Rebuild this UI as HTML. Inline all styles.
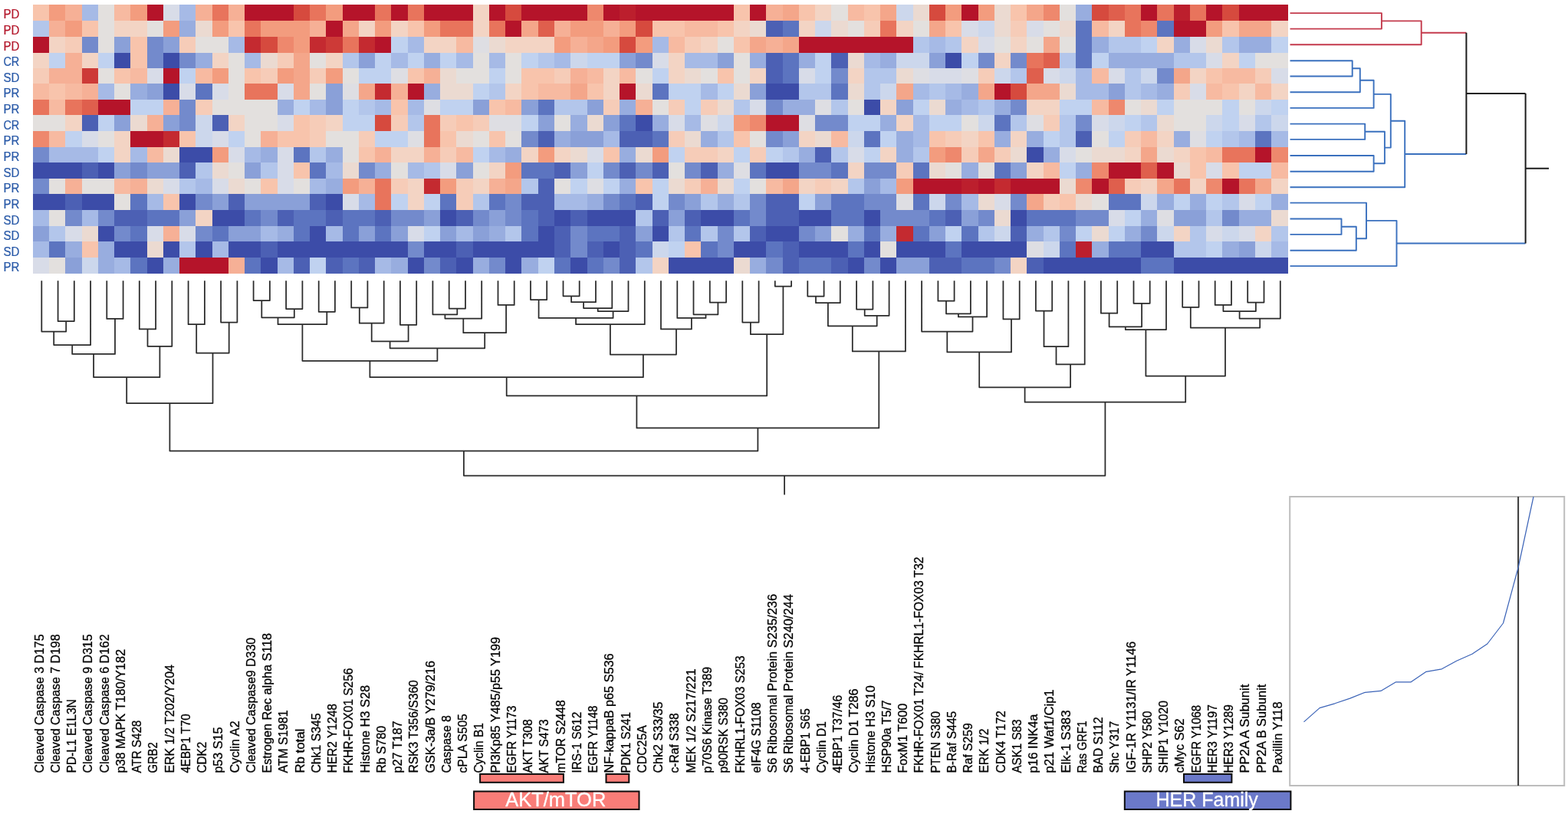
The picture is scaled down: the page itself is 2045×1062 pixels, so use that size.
<!DOCTYPE html>
<html lang="en">
<head>
<meta charset="utf-8">
<title>Hierarchical clustering heatmap</title>
<style>
html,body{margin:0;padding:0;background:#fff;}
body{width:2045px;height:1062px;overflow:hidden;}
svg{display:block;}
</style>
</head>
<body>
<svg width="2045" height="1062" viewBox="0 0 2045 1062">
<rect width="2045" height="1062" fill="#fff"/>
<g shape-rendering="crispEdges">
<rect x="42.80" y="5.90" width="21.56" height="21.10" fill="#f8c4ac"/>
<rect x="64.06" y="5.90" width="21.56" height="21.10" fill="#f39c7e"/>
<rect x="85.31" y="5.90" width="21.56" height="21.10" fill="#f6b096"/>
<rect x="106.57" y="5.90" width="21.56" height="21.10" fill="#a6bae6"/>
<rect x="127.82" y="5.90" width="21.56" height="21.10" fill="#e3e0de"/>
<rect x="149.08" y="5.90" width="21.56" height="21.10" fill="#f7baa1"/>
<rect x="170.34" y="5.90" width="21.56" height="21.10" fill="#f39c7e"/>
<rect x="191.59" y="5.90" width="21.56" height="21.10" fill="#b5142a"/>
<rect x="212.85" y="5.90" width="21.56" height="21.10" fill="#d8dce8"/>
<rect x="234.10" y="5.90" width="21.56" height="21.10" fill="#a6bae6"/>
<rect x="255.36" y="5.90" width="21.56" height="21.10" fill="#f6b096"/>
<rect x="276.62" y="5.90" width="21.56" height="21.10" fill="#e8745c"/>
<rect x="297.87" y="5.90" width="21.56" height="21.10" fill="#f6b096"/>
<rect x="319.13" y="5.90" width="64.07" height="21.10" fill="#b5142a"/>
<rect x="382.90" y="5.90" width="21.56" height="21.10" fill="#d64a3e"/>
<rect x="404.15" y="5.90" width="21.56" height="21.10" fill="#e8745c"/>
<rect x="425.41" y="5.90" width="21.56" height="21.10" fill="#f39c7e"/>
<rect x="446.66" y="5.90" width="42.81" height="21.10" fill="#b5142a"/>
<rect x="489.18" y="5.90" width="21.56" height="21.10" fill="#e8745c"/>
<rect x="510.43" y="5.90" width="21.56" height="21.10" fill="#b5142a"/>
<rect x="531.69" y="5.90" width="21.56" height="21.10" fill="#e8745c"/>
<rect x="552.94" y="5.90" width="64.07" height="21.10" fill="#b5142a"/>
<rect x="616.71" y="5.90" width="21.56" height="21.10" fill="#f3d4c4"/>
<rect x="637.97" y="5.90" width="21.56" height="21.10" fill="#b5142a"/>
<rect x="659.22" y="5.90" width="21.56" height="21.10" fill="#d64a3e"/>
<rect x="680.48" y="5.90" width="85.32" height="21.10" fill="#b5142a"/>
<rect x="765.50" y="5.90" width="21.56" height="21.10" fill="#ee886d"/>
<rect x="786.76" y="5.90" width="21.56" height="21.10" fill="#b5142a"/>
<rect x="808.02" y="5.90" width="21.56" height="21.10" fill="#bc1f2d"/>
<rect x="829.27" y="5.90" width="127.84" height="21.10" fill="#b5142a"/>
<rect x="956.81" y="5.90" width="21.56" height="21.10" fill="#f8c4ac"/>
<rect x="978.06" y="5.90" width="21.56" height="21.10" fill="#b5142a"/>
<rect x="999.32" y="5.90" width="21.56" height="21.10" fill="#f6b096"/>
<rect x="1020.58" y="5.90" width="21.56" height="21.10" fill="#f4a68a"/>
<rect x="1041.83" y="5.90" width="21.56" height="21.10" fill="#f8c4ac"/>
<rect x="1063.09" y="5.90" width="21.56" height="21.10" fill="#f3d4c4"/>
<rect x="1084.34" y="5.90" width="21.56" height="21.10" fill="#e3e0de"/>
<rect x="1105.60" y="5.90" width="21.56" height="21.10" fill="#f7baa1"/>
<rect x="1126.86" y="5.90" width="21.56" height="21.10" fill="#f8c4ac"/>
<rect x="1148.11" y="5.90" width="21.56" height="21.10" fill="#f4a68a"/>
<rect x="1169.37" y="5.90" width="21.56" height="21.10" fill="#ccd7ec"/>
<rect x="1190.62" y="5.90" width="21.56" height="21.10" fill="#ebdad1"/>
<rect x="1211.88" y="5.90" width="21.56" height="21.10" fill="#d64a3e"/>
<rect x="1233.14" y="5.90" width="21.56" height="21.10" fill="#f39c7e"/>
<rect x="1254.39" y="5.90" width="21.56" height="21.10" fill="#b5142a"/>
<rect x="1275.65" y="5.90" width="21.56" height="21.10" fill="#f39c7e"/>
<rect x="1296.90" y="5.90" width="21.56" height="21.10" fill="#ebdad1"/>
<rect x="1318.16" y="5.90" width="21.56" height="21.10" fill="#f8c4ac"/>
<rect x="1339.42" y="5.90" width="21.56" height="21.10" fill="#f4a68a"/>
<rect x="1360.67" y="5.90" width="21.56" height="21.10" fill="#ee886d"/>
<rect x="1381.93" y="5.90" width="21.56" height="21.10" fill="#e3e0de"/>
<rect x="1403.18" y="5.90" width="21.56" height="21.10" fill="#98addf"/>
<rect x="1424.44" y="5.90" width="21.56" height="21.10" fill="#d64a3e"/>
<rect x="1445.70" y="5.90" width="21.56" height="21.10" fill="#df5f4d"/>
<rect x="1466.95" y="5.90" width="21.56" height="21.10" fill="#e8745c"/>
<rect x="1488.21" y="5.90" width="21.56" height="21.10" fill="#b5142a"/>
<rect x="1509.46" y="5.90" width="21.56" height="21.10" fill="#e8745c"/>
<rect x="1530.72" y="5.90" width="21.56" height="21.10" fill="#bc1f2d"/>
<rect x="1551.98" y="5.90" width="21.56" height="21.10" fill="#e8745c"/>
<rect x="1573.23" y="5.90" width="21.56" height="21.10" fill="#b5142a"/>
<rect x="1594.49" y="5.90" width="21.56" height="21.10" fill="#d64a3e"/>
<rect x="1615.74" y="5.90" width="64.07" height="21.10" fill="#b5142a"/>
<rect x="42.80" y="26.70" width="21.56" height="21.30" fill="#b3c6eb"/>
<rect x="64.06" y="26.70" width="21.56" height="21.30" fill="#f6b096"/>
<rect x="85.31" y="26.70" width="21.56" height="21.30" fill="#f39c7e"/>
<rect x="106.57" y="26.70" width="21.56" height="21.30" fill="#f8c4ac"/>
<rect x="127.82" y="26.70" width="21.56" height="21.30" fill="#e3e0de"/>
<rect x="149.08" y="26.70" width="42.81" height="21.30" fill="#f3d4c4"/>
<rect x="191.59" y="26.70" width="21.56" height="21.30" fill="#e3e0de"/>
<rect x="212.85" y="26.70" width="21.56" height="21.30" fill="#f39c7e"/>
<rect x="234.10" y="26.70" width="21.56" height="21.30" fill="#98addf"/>
<rect x="255.36" y="26.70" width="21.56" height="21.30" fill="#ebdad1"/>
<rect x="276.62" y="26.70" width="21.56" height="21.30" fill="#f39c7e"/>
<rect x="297.87" y="26.70" width="21.56" height="21.30" fill="#f8c4ac"/>
<rect x="319.13" y="26.70" width="21.56" height="21.30" fill="#e8745c"/>
<rect x="340.38" y="26.70" width="64.07" height="21.30" fill="#f39c7e"/>
<rect x="404.15" y="26.70" width="21.56" height="21.30" fill="#f6b096"/>
<rect x="425.41" y="26.70" width="21.56" height="21.30" fill="#b5142a"/>
<rect x="446.66" y="26.70" width="21.56" height="21.30" fill="#f4a68a"/>
<rect x="467.92" y="26.70" width="21.56" height="21.30" fill="#f3d4c4"/>
<rect x="489.18" y="26.70" width="21.56" height="21.30" fill="#f39c7e"/>
<rect x="510.43" y="26.70" width="21.56" height="21.30" fill="#f3d4c4"/>
<rect x="531.69" y="26.70" width="21.56" height="21.30" fill="#f8c4ac"/>
<rect x="552.94" y="26.70" width="21.56" height="21.30" fill="#f39c7e"/>
<rect x="574.20" y="26.70" width="42.81" height="21.30" fill="#e8745c"/>
<rect x="616.71" y="26.70" width="21.56" height="21.30" fill="#f3d4c4"/>
<rect x="637.97" y="26.70" width="21.56" height="21.30" fill="#e8745c"/>
<rect x="659.22" y="26.70" width="21.56" height="21.30" fill="#b5142a"/>
<rect x="680.48" y="26.70" width="21.56" height="21.30" fill="#f4a68a"/>
<rect x="701.74" y="26.70" width="21.56" height="21.30" fill="#df5f4d"/>
<rect x="722.99" y="26.70" width="21.56" height="21.30" fill="#f6b096"/>
<rect x="744.25" y="26.70" width="42.81" height="21.30" fill="#f39c7e"/>
<rect x="786.76" y="26.70" width="21.56" height="21.30" fill="#f6b096"/>
<rect x="808.02" y="26.70" width="21.56" height="21.30" fill="#f39c7e"/>
<rect x="829.27" y="26.70" width="21.56" height="21.30" fill="#d64a3e"/>
<rect x="850.53" y="26.70" width="42.81" height="21.30" fill="#f8c4ac"/>
<rect x="893.04" y="26.70" width="42.81" height="21.30" fill="#f7baa1"/>
<rect x="935.55" y="26.70" width="21.56" height="21.30" fill="#f8c4ac"/>
<rect x="956.81" y="26.70" width="21.56" height="21.30" fill="#f3d4c4"/>
<rect x="978.06" y="26.70" width="21.56" height="21.30" fill="#ebdad1"/>
<rect x="999.32" y="26.70" width="21.56" height="21.30" fill="#4c60b4"/>
<rect x="1020.58" y="26.70" width="21.56" height="21.30" fill="#5c74c0"/>
<rect x="1041.83" y="26.70" width="21.56" height="21.30" fill="#f3d4c4"/>
<rect x="1063.09" y="26.70" width="21.56" height="21.30" fill="#ccd7ec"/>
<rect x="1084.34" y="26.70" width="21.56" height="21.30" fill="#ebdad1"/>
<rect x="1105.60" y="26.70" width="21.56" height="21.30" fill="#e3e0de"/>
<rect x="1126.86" y="26.70" width="21.56" height="21.30" fill="#f6ccb8"/>
<rect x="1148.11" y="26.70" width="21.56" height="21.30" fill="#e8745c"/>
<rect x="1169.37" y="26.70" width="21.56" height="21.30" fill="#f3d4c4"/>
<rect x="1190.62" y="26.70" width="21.56" height="21.30" fill="#e3e0de"/>
<rect x="1211.88" y="26.70" width="21.56" height="21.30" fill="#f4a68a"/>
<rect x="1233.14" y="26.70" width="21.56" height="21.30" fill="#f8c4ac"/>
<rect x="1254.39" y="26.70" width="21.56" height="21.30" fill="#d8dce8"/>
<rect x="1275.65" y="26.70" width="21.56" height="21.30" fill="#ccd7ec"/>
<rect x="1296.90" y="26.70" width="21.56" height="21.30" fill="#ebdad1"/>
<rect x="1318.16" y="26.70" width="21.56" height="21.30" fill="#f6ccb8"/>
<rect x="1339.42" y="26.70" width="21.56" height="21.30" fill="#d8dce8"/>
<rect x="1360.67" y="26.70" width="21.56" height="21.30" fill="#e3e0de"/>
<rect x="1381.93" y="26.70" width="21.56" height="21.30" fill="#ebdad1"/>
<rect x="1403.18" y="26.70" width="21.56" height="21.30" fill="#5c74c0"/>
<rect x="1424.44" y="26.70" width="21.56" height="21.30" fill="#f7baa1"/>
<rect x="1445.70" y="26.70" width="21.56" height="21.30" fill="#f3d4c4"/>
<rect x="1466.95" y="26.70" width="21.56" height="21.30" fill="#e8745c"/>
<rect x="1488.21" y="26.70" width="21.56" height="21.30" fill="#ee886d"/>
<rect x="1509.46" y="26.70" width="21.56" height="21.30" fill="#5c74c0"/>
<rect x="1530.72" y="26.70" width="42.81" height="21.30" fill="#b5142a"/>
<rect x="1573.23" y="26.70" width="21.56" height="21.30" fill="#f39c7e"/>
<rect x="1594.49" y="26.70" width="21.56" height="21.30" fill="#f8c4ac"/>
<rect x="1615.74" y="26.70" width="42.81" height="21.30" fill="#f4a68a"/>
<rect x="1658.26" y="26.70" width="21.56" height="21.30" fill="#f3d4c4"/>
<rect x="42.80" y="47.70" width="21.56" height="21.20" fill="#b5142a"/>
<rect x="64.06" y="47.70" width="21.56" height="21.20" fill="#f3d4c4"/>
<rect x="85.31" y="47.70" width="21.56" height="21.20" fill="#f6ccb8"/>
<rect x="106.57" y="47.70" width="21.56" height="21.20" fill="#738acc"/>
<rect x="127.82" y="47.70" width="21.56" height="21.20" fill="#e3e0de"/>
<rect x="149.08" y="47.70" width="21.56" height="21.20" fill="#8aa0d8"/>
<rect x="170.34" y="47.70" width="21.56" height="21.20" fill="#f8c4ac"/>
<rect x="191.59" y="47.70" width="21.56" height="21.20" fill="#738acc"/>
<rect x="212.85" y="47.70" width="21.56" height="21.20" fill="#8aa0d8"/>
<rect x="234.10" y="47.70" width="21.56" height="21.20" fill="#f6ccb8"/>
<rect x="255.36" y="47.70" width="42.81" height="21.20" fill="#e3e0de"/>
<rect x="297.87" y="47.70" width="21.56" height="21.20" fill="#a6bae6"/>
<rect x="319.13" y="47.70" width="21.56" height="21.20" fill="#c42a30"/>
<rect x="340.38" y="47.70" width="21.56" height="21.20" fill="#d64a3e"/>
<rect x="361.64" y="47.70" width="21.56" height="21.20" fill="#ee886d"/>
<rect x="382.90" y="47.70" width="21.56" height="21.20" fill="#f39c7e"/>
<rect x="404.15" y="47.70" width="21.56" height="21.20" fill="#c42a30"/>
<rect x="425.41" y="47.70" width="21.56" height="21.20" fill="#cd3a37"/>
<rect x="446.66" y="47.70" width="21.56" height="21.20" fill="#e8745c"/>
<rect x="467.92" y="47.70" width="21.56" height="21.20" fill="#c42a30"/>
<rect x="489.18" y="47.70" width="21.56" height="21.20" fill="#b5142a"/>
<rect x="510.43" y="47.70" width="21.56" height="21.20" fill="#c0d2f0"/>
<rect x="531.69" y="47.70" width="21.56" height="21.20" fill="#a6bae6"/>
<rect x="552.94" y="47.70" width="42.81" height="21.20" fill="#f3d4c4"/>
<rect x="595.46" y="47.70" width="21.56" height="21.20" fill="#f7baa1"/>
<rect x="616.71" y="47.70" width="21.56" height="21.20" fill="#dedee3"/>
<rect x="637.97" y="47.70" width="21.56" height="21.20" fill="#ebdad1"/>
<rect x="659.22" y="47.70" width="64.07" height="21.20" fill="#f3d4c4"/>
<rect x="722.99" y="47.70" width="21.56" height="21.20" fill="#f39c7e"/>
<rect x="744.25" y="47.70" width="21.56" height="21.20" fill="#f6b096"/>
<rect x="765.50" y="47.70" width="21.56" height="21.20" fill="#f4a68a"/>
<rect x="786.76" y="47.70" width="21.56" height="21.20" fill="#f39c7e"/>
<rect x="808.02" y="47.70" width="21.56" height="21.20" fill="#d64a3e"/>
<rect x="829.27" y="47.70" width="21.56" height="21.20" fill="#f39c7e"/>
<rect x="850.53" y="47.70" width="21.56" height="21.20" fill="#a6bae6"/>
<rect x="871.78" y="47.70" width="21.56" height="21.20" fill="#f7baa1"/>
<rect x="893.04" y="47.70" width="21.56" height="21.20" fill="#f6ccb8"/>
<rect x="914.30" y="47.70" width="21.56" height="21.20" fill="#f3d4c4"/>
<rect x="935.55" y="47.70" width="21.56" height="21.20" fill="#e3e0de"/>
<rect x="956.81" y="47.70" width="21.56" height="21.20" fill="#f8c4ac"/>
<rect x="978.06" y="47.70" width="21.56" height="21.20" fill="#f4a68a"/>
<rect x="999.32" y="47.70" width="21.56" height="21.20" fill="#f6b096"/>
<rect x="1020.58" y="47.70" width="21.56" height="21.20" fill="#f4a68a"/>
<rect x="1041.83" y="47.70" width="149.09" height="21.20" fill="#b5142a"/>
<rect x="1190.62" y="47.70" width="21.56" height="21.20" fill="#b3c6eb"/>
<rect x="1211.88" y="47.70" width="21.56" height="21.20" fill="#a6bae6"/>
<rect x="1233.14" y="47.70" width="21.56" height="21.20" fill="#b3c6eb"/>
<rect x="1254.39" y="47.70" width="21.56" height="21.20" fill="#f3d4c4"/>
<rect x="1275.65" y="47.70" width="21.56" height="21.20" fill="#d8dce8"/>
<rect x="1296.90" y="47.70" width="21.56" height="21.20" fill="#e3e0de"/>
<rect x="1318.16" y="47.70" width="21.56" height="21.20" fill="#f3d4c4"/>
<rect x="1339.42" y="47.70" width="21.56" height="21.20" fill="#e3e0de"/>
<rect x="1360.67" y="47.70" width="21.56" height="21.20" fill="#f4a68a"/>
<rect x="1381.93" y="47.70" width="21.56" height="21.20" fill="#e3e0de"/>
<rect x="1403.18" y="47.70" width="21.56" height="21.20" fill="#5c74c0"/>
<rect x="1424.44" y="47.70" width="21.56" height="21.20" fill="#98addf"/>
<rect x="1445.70" y="47.70" width="42.81" height="21.20" fill="#b3c6eb"/>
<rect x="1488.21" y="47.70" width="21.56" height="21.20" fill="#c0d2f0"/>
<rect x="1509.46" y="47.70" width="21.56" height="21.20" fill="#f3d4c4"/>
<rect x="1530.72" y="47.70" width="21.56" height="21.20" fill="#98addf"/>
<rect x="1551.98" y="47.70" width="21.56" height="21.20" fill="#d8dce8"/>
<rect x="1573.23" y="47.70" width="21.56" height="21.20" fill="#ebdad1"/>
<rect x="1594.49" y="47.70" width="21.56" height="21.20" fill="#b3c6eb"/>
<rect x="1615.74" y="47.70" width="42.81" height="21.20" fill="#98addf"/>
<rect x="1658.26" y="47.70" width="21.56" height="21.20" fill="#c0d2f0"/>
<rect x="42.80" y="68.60" width="21.56" height="20.20" fill="#f3d4c4"/>
<rect x="64.06" y="68.60" width="21.56" height="20.20" fill="#c0d2f0"/>
<rect x="85.31" y="68.60" width="21.56" height="20.20" fill="#f6b096"/>
<rect x="106.57" y="68.60" width="21.56" height="20.20" fill="#f3d4c4"/>
<rect x="127.82" y="68.60" width="21.56" height="20.20" fill="#c0d2f0"/>
<rect x="149.08" y="68.60" width="21.56" height="20.20" fill="#3c4ca8"/>
<rect x="170.34" y="68.60" width="21.56" height="20.20" fill="#f8c4ac"/>
<rect x="191.59" y="68.60" width="21.56" height="20.20" fill="#738acc"/>
<rect x="212.85" y="68.60" width="21.56" height="20.20" fill="#3c4ca8"/>
<rect x="234.10" y="68.60" width="21.56" height="20.20" fill="#738acc"/>
<rect x="255.36" y="68.60" width="21.56" height="20.20" fill="#98addf"/>
<rect x="276.62" y="68.60" width="21.56" height="20.20" fill="#f3d4c4"/>
<rect x="297.87" y="68.60" width="21.56" height="20.20" fill="#e3e0de"/>
<rect x="319.13" y="68.60" width="21.56" height="20.20" fill="#a6bae6"/>
<rect x="340.38" y="68.60" width="21.56" height="20.20" fill="#ebdad1"/>
<rect x="361.64" y="68.60" width="21.56" height="20.20" fill="#f6ccb8"/>
<rect x="382.90" y="68.60" width="21.56" height="20.20" fill="#f4a68a"/>
<rect x="404.15" y="68.60" width="21.56" height="20.20" fill="#e3e0de"/>
<rect x="425.41" y="68.60" width="21.56" height="20.20" fill="#f3d4c4"/>
<rect x="446.66" y="68.60" width="21.56" height="20.20" fill="#b3c6eb"/>
<rect x="467.92" y="68.60" width="21.56" height="20.20" fill="#8aa0d8"/>
<rect x="489.18" y="68.60" width="21.56" height="20.20" fill="#c0d2f0"/>
<rect x="510.43" y="68.60" width="21.56" height="20.20" fill="#a6bae6"/>
<rect x="531.69" y="68.60" width="21.56" height="20.20" fill="#c0d2f0"/>
<rect x="552.94" y="68.60" width="21.56" height="20.20" fill="#98addf"/>
<rect x="574.20" y="68.60" width="21.56" height="20.20" fill="#c0d2f0"/>
<rect x="595.46" y="68.60" width="21.56" height="20.20" fill="#a6bae6"/>
<rect x="616.71" y="68.60" width="21.56" height="20.20" fill="#e3e0de"/>
<rect x="637.97" y="68.60" width="21.56" height="20.20" fill="#a6bae6"/>
<rect x="659.22" y="68.60" width="21.56" height="20.20" fill="#e3e0de"/>
<rect x="680.48" y="68.60" width="21.56" height="20.20" fill="#c0d2f0"/>
<rect x="701.74" y="68.60" width="21.56" height="20.20" fill="#b3c6eb"/>
<rect x="722.99" y="68.60" width="21.56" height="20.20" fill="#a6bae6"/>
<rect x="744.25" y="68.60" width="21.56" height="20.20" fill="#ccd7ec"/>
<rect x="765.50" y="68.60" width="42.81" height="20.20" fill="#c0d2f0"/>
<rect x="808.02" y="68.60" width="21.56" height="20.20" fill="#8aa0d8"/>
<rect x="829.27" y="68.60" width="21.56" height="20.20" fill="#738acc"/>
<rect x="850.53" y="68.60" width="21.56" height="20.20" fill="#d8dce8"/>
<rect x="871.78" y="68.60" width="21.56" height="20.20" fill="#f3d4c4"/>
<rect x="893.04" y="68.60" width="42.81" height="20.20" fill="#a6bae6"/>
<rect x="935.55" y="68.60" width="21.56" height="20.20" fill="#8aa0d8"/>
<rect x="956.81" y="68.60" width="21.56" height="20.20" fill="#e3e0de"/>
<rect x="978.06" y="68.60" width="21.56" height="20.20" fill="#98addf"/>
<rect x="999.32" y="68.60" width="21.56" height="20.20" fill="#4c60b4"/>
<rect x="1020.58" y="68.60" width="21.56" height="20.20" fill="#5c74c0"/>
<rect x="1041.83" y="68.60" width="21.56" height="20.20" fill="#98addf"/>
<rect x="1063.09" y="68.60" width="21.56" height="20.20" fill="#c0d2f0"/>
<rect x="1084.34" y="68.60" width="21.56" height="20.20" fill="#4c60b4"/>
<rect x="1105.60" y="68.60" width="21.56" height="20.20" fill="#ebdad1"/>
<rect x="1126.86" y="68.60" width="21.56" height="20.20" fill="#a6bae6"/>
<rect x="1148.11" y="68.60" width="21.56" height="20.20" fill="#98addf"/>
<rect x="1169.37" y="68.60" width="42.81" height="20.20" fill="#ccd7ec"/>
<rect x="1211.88" y="68.60" width="21.56" height="20.20" fill="#8aa0d8"/>
<rect x="1233.14" y="68.60" width="21.56" height="20.20" fill="#3c4ca8"/>
<rect x="1254.39" y="68.60" width="21.56" height="20.20" fill="#c0d2f0"/>
<rect x="1275.65" y="68.60" width="21.56" height="20.20" fill="#738acc"/>
<rect x="1296.90" y="68.60" width="21.56" height="20.20" fill="#f3d4c4"/>
<rect x="1318.16" y="68.60" width="21.56" height="20.20" fill="#738acc"/>
<rect x="1339.42" y="68.60" width="21.56" height="20.20" fill="#e8745c"/>
<rect x="1360.67" y="68.60" width="21.56" height="20.20" fill="#df5f4d"/>
<rect x="1381.93" y="68.60" width="21.56" height="20.20" fill="#b3c6eb"/>
<rect x="1403.18" y="68.60" width="21.56" height="20.20" fill="#5c74c0"/>
<rect x="1424.44" y="68.60" width="21.56" height="20.20" fill="#c0d2f0"/>
<rect x="1445.70" y="68.60" width="85.32" height="20.20" fill="#98addf"/>
<rect x="1530.72" y="68.60" width="42.81" height="20.20" fill="#b3c6eb"/>
<rect x="1573.23" y="68.60" width="21.56" height="20.20" fill="#d8dce8"/>
<rect x="1594.49" y="68.60" width="21.56" height="20.20" fill="#f3d4c4"/>
<rect x="1615.74" y="68.60" width="21.56" height="20.20" fill="#c0d2f0"/>
<rect x="1637.00" y="68.60" width="42.81" height="20.20" fill="#e3e0de"/>
<rect x="42.80" y="88.50" width="21.56" height="20.80" fill="#f6ccb8"/>
<rect x="64.06" y="88.50" width="42.81" height="20.80" fill="#f6b096"/>
<rect x="106.57" y="88.50" width="21.56" height="20.80" fill="#cd3a37"/>
<rect x="127.82" y="88.50" width="21.56" height="20.80" fill="#e3e0de"/>
<rect x="149.08" y="88.50" width="21.56" height="20.80" fill="#f8c4ac"/>
<rect x="170.34" y="88.50" width="21.56" height="20.80" fill="#f7baa1"/>
<rect x="191.59" y="88.50" width="21.56" height="20.80" fill="#d8dce8"/>
<rect x="212.85" y="88.50" width="21.56" height="20.80" fill="#b5142a"/>
<rect x="234.10" y="88.50" width="21.56" height="20.80" fill="#c0d2f0"/>
<rect x="255.36" y="88.50" width="21.56" height="20.80" fill="#f7baa1"/>
<rect x="276.62" y="88.50" width="21.56" height="20.80" fill="#f39c7e"/>
<rect x="297.87" y="88.50" width="21.56" height="20.80" fill="#e3e0de"/>
<rect x="319.13" y="88.50" width="21.56" height="20.80" fill="#f8c4ac"/>
<rect x="340.38" y="88.50" width="21.56" height="20.80" fill="#f6ccb8"/>
<rect x="361.64" y="88.50" width="21.56" height="20.80" fill="#f39c7e"/>
<rect x="382.90" y="88.50" width="21.56" height="20.80" fill="#f4a68a"/>
<rect x="404.15" y="88.50" width="21.56" height="20.80" fill="#f6ccb8"/>
<rect x="425.41" y="88.50" width="21.56" height="20.80" fill="#f39c7e"/>
<rect x="446.66" y="88.50" width="21.56" height="20.80" fill="#e3e0de"/>
<rect x="467.92" y="88.50" width="42.81" height="20.80" fill="#c0d2f0"/>
<rect x="510.43" y="88.50" width="21.56" height="20.80" fill="#dedee3"/>
<rect x="531.69" y="88.50" width="21.56" height="20.80" fill="#f8c4ac"/>
<rect x="552.94" y="88.50" width="21.56" height="20.80" fill="#f6b096"/>
<rect x="574.20" y="88.50" width="21.56" height="20.80" fill="#ebdad1"/>
<rect x="595.46" y="88.50" width="42.81" height="20.80" fill="#e3e0de"/>
<rect x="637.97" y="88.50" width="21.56" height="20.80" fill="#c0d2f0"/>
<rect x="659.22" y="88.50" width="21.56" height="20.80" fill="#e3e0de"/>
<rect x="680.48" y="88.50" width="42.81" height="20.80" fill="#f8c4ac"/>
<rect x="722.99" y="88.50" width="21.56" height="20.80" fill="#f6ccb8"/>
<rect x="744.25" y="88.50" width="21.56" height="20.80" fill="#f6b096"/>
<rect x="765.50" y="88.50" width="21.56" height="20.80" fill="#f7baa1"/>
<rect x="786.76" y="88.50" width="21.56" height="20.80" fill="#f3d4c4"/>
<rect x="808.02" y="88.50" width="21.56" height="20.80" fill="#f7baa1"/>
<rect x="829.27" y="88.50" width="21.56" height="20.80" fill="#e3e0de"/>
<rect x="850.53" y="88.50" width="21.56" height="20.80" fill="#c0d2f0"/>
<rect x="871.78" y="88.50" width="21.56" height="20.80" fill="#f3d4c4"/>
<rect x="893.04" y="88.50" width="21.56" height="20.80" fill="#ebdad1"/>
<rect x="914.30" y="88.50" width="21.56" height="20.80" fill="#e3e0de"/>
<rect x="935.55" y="88.50" width="21.56" height="20.80" fill="#f8c4ac"/>
<rect x="956.81" y="88.50" width="21.56" height="20.80" fill="#e3e0de"/>
<rect x="978.06" y="88.50" width="21.56" height="20.80" fill="#f3d4c4"/>
<rect x="999.32" y="88.50" width="21.56" height="20.80" fill="#4c60b4"/>
<rect x="1020.58" y="88.50" width="21.56" height="20.80" fill="#5c74c0"/>
<rect x="1041.83" y="88.50" width="21.56" height="20.80" fill="#d8dce8"/>
<rect x="1063.09" y="88.50" width="21.56" height="20.80" fill="#c0d2f0"/>
<rect x="1084.34" y="88.50" width="21.56" height="20.80" fill="#738acc"/>
<rect x="1105.60" y="88.50" width="21.56" height="20.80" fill="#f3d4c4"/>
<rect x="1126.86" y="88.50" width="42.81" height="20.80" fill="#b3c6eb"/>
<rect x="1169.37" y="88.50" width="21.56" height="20.80" fill="#ebdad1"/>
<rect x="1190.62" y="88.50" width="21.56" height="20.80" fill="#dedee3"/>
<rect x="1211.88" y="88.50" width="42.81" height="20.80" fill="#d8dce8"/>
<rect x="1254.39" y="88.50" width="21.56" height="20.80" fill="#dedee3"/>
<rect x="1275.65" y="88.50" width="21.56" height="20.80" fill="#f6ccb8"/>
<rect x="1296.90" y="88.50" width="21.56" height="20.80" fill="#ccd7ec"/>
<rect x="1318.16" y="88.50" width="21.56" height="20.80" fill="#b3c6eb"/>
<rect x="1339.42" y="88.50" width="21.56" height="20.80" fill="#df5f4d"/>
<rect x="1360.67" y="88.50" width="21.56" height="20.80" fill="#d8dce8"/>
<rect x="1381.93" y="88.50" width="21.56" height="20.80" fill="#ccd7ec"/>
<rect x="1403.18" y="88.50" width="21.56" height="20.80" fill="#a6bae6"/>
<rect x="1424.44" y="88.50" width="21.56" height="20.80" fill="#f7baa1"/>
<rect x="1445.70" y="88.50" width="21.56" height="20.80" fill="#d8dce8"/>
<rect x="1466.95" y="88.50" width="21.56" height="20.80" fill="#b3c6eb"/>
<rect x="1488.21" y="88.50" width="21.56" height="20.80" fill="#ccd7ec"/>
<rect x="1509.46" y="88.50" width="21.56" height="20.80" fill="#738acc"/>
<rect x="1530.72" y="88.50" width="21.56" height="20.80" fill="#f4a68a"/>
<rect x="1551.98" y="88.50" width="21.56" height="20.80" fill="#f3d4c4"/>
<rect x="1573.23" y="88.50" width="21.56" height="20.80" fill="#f8c4ac"/>
<rect x="1594.49" y="88.50" width="42.81" height="20.80" fill="#f7baa1"/>
<rect x="1637.00" y="88.50" width="21.56" height="20.80" fill="#f6ccb8"/>
<rect x="1658.26" y="88.50" width="21.56" height="20.80" fill="#d8dce8"/>
<rect x="42.80" y="109.00" width="21.56" height="21.40" fill="#f7baa1"/>
<rect x="64.06" y="109.00" width="21.56" height="21.40" fill="#f8c4ac"/>
<rect x="85.31" y="109.00" width="21.56" height="21.40" fill="#f7baa1"/>
<rect x="106.57" y="109.00" width="21.56" height="21.40" fill="#f6b096"/>
<rect x="127.82" y="109.00" width="21.56" height="21.40" fill="#a6bae6"/>
<rect x="149.08" y="109.00" width="21.56" height="21.40" fill="#e3e0de"/>
<rect x="170.34" y="109.00" width="21.56" height="21.40" fill="#98addf"/>
<rect x="191.59" y="109.00" width="21.56" height="21.40" fill="#8aa0d8"/>
<rect x="212.85" y="109.00" width="21.56" height="21.40" fill="#3c4ca8"/>
<rect x="234.10" y="109.00" width="21.56" height="21.40" fill="#d8dce8"/>
<rect x="255.36" y="109.00" width="21.56" height="21.40" fill="#5c74c0"/>
<rect x="276.62" y="109.00" width="21.56" height="21.40" fill="#d8dce8"/>
<rect x="297.87" y="109.00" width="21.56" height="21.40" fill="#e3e0de"/>
<rect x="319.13" y="109.00" width="42.81" height="21.40" fill="#e8745c"/>
<rect x="361.64" y="109.00" width="21.56" height="21.40" fill="#d8dce8"/>
<rect x="382.90" y="109.00" width="21.56" height="21.40" fill="#f4a68a"/>
<rect x="404.15" y="109.00" width="21.56" height="21.40" fill="#e3e0de"/>
<rect x="425.41" y="109.00" width="21.56" height="21.40" fill="#8aa0d8"/>
<rect x="446.66" y="109.00" width="21.56" height="21.40" fill="#dedee3"/>
<rect x="467.92" y="109.00" width="21.56" height="21.40" fill="#f4a68a"/>
<rect x="489.18" y="109.00" width="21.56" height="21.40" fill="#c42a30"/>
<rect x="510.43" y="109.00" width="21.56" height="21.40" fill="#f6b096"/>
<rect x="531.69" y="109.00" width="21.56" height="21.40" fill="#b5142a"/>
<rect x="552.94" y="109.00" width="21.56" height="21.40" fill="#98addf"/>
<rect x="574.20" y="109.00" width="42.81" height="21.40" fill="#ebdad1"/>
<rect x="616.71" y="109.00" width="21.56" height="21.40" fill="#c0d2f0"/>
<rect x="637.97" y="109.00" width="21.56" height="21.40" fill="#b3c6eb"/>
<rect x="659.22" y="109.00" width="21.56" height="21.40" fill="#f3d4c4"/>
<rect x="680.48" y="109.00" width="21.56" height="21.40" fill="#f8c4ac"/>
<rect x="701.74" y="109.00" width="42.81" height="21.40" fill="#f7baa1"/>
<rect x="744.25" y="109.00" width="21.56" height="21.40" fill="#f4a68a"/>
<rect x="765.50" y="109.00" width="21.56" height="21.40" fill="#f8c4ac"/>
<rect x="786.76" y="109.00" width="21.56" height="21.40" fill="#f3d4c4"/>
<rect x="808.02" y="109.00" width="21.56" height="21.40" fill="#b5142a"/>
<rect x="829.27" y="109.00" width="21.56" height="21.40" fill="#ebdad1"/>
<rect x="850.53" y="109.00" width="21.56" height="21.40" fill="#5c74c0"/>
<rect x="871.78" y="109.00" width="42.81" height="21.40" fill="#c0d2f0"/>
<rect x="914.30" y="109.00" width="21.56" height="21.40" fill="#a6bae6"/>
<rect x="935.55" y="109.00" width="21.56" height="21.40" fill="#c0d2f0"/>
<rect x="956.81" y="109.00" width="21.56" height="21.40" fill="#ebdad1"/>
<rect x="978.06" y="109.00" width="21.56" height="21.40" fill="#8aa0d8"/>
<rect x="999.32" y="109.00" width="42.81" height="21.40" fill="#3c4ca8"/>
<rect x="1041.83" y="109.00" width="42.81" height="21.40" fill="#b3c6eb"/>
<rect x="1084.34" y="109.00" width="21.56" height="21.40" fill="#5c74c0"/>
<rect x="1105.60" y="109.00" width="21.56" height="21.40" fill="#ebdad1"/>
<rect x="1126.86" y="109.00" width="21.56" height="21.40" fill="#b3c6eb"/>
<rect x="1148.11" y="109.00" width="21.56" height="21.40" fill="#ccd7ec"/>
<rect x="1169.37" y="109.00" width="21.56" height="21.40" fill="#f4a68a"/>
<rect x="1190.62" y="109.00" width="21.56" height="21.40" fill="#a6bae6"/>
<rect x="1211.88" y="109.00" width="21.56" height="21.40" fill="#b3c6eb"/>
<rect x="1233.14" y="109.00" width="21.56" height="21.40" fill="#a6bae6"/>
<rect x="1254.39" y="109.00" width="21.56" height="21.40" fill="#98addf"/>
<rect x="1275.65" y="109.00" width="21.56" height="21.40" fill="#f4a68a"/>
<rect x="1296.90" y="109.00" width="21.56" height="21.40" fill="#b5142a"/>
<rect x="1318.16" y="109.00" width="21.56" height="21.40" fill="#d64a3e"/>
<rect x="1339.42" y="109.00" width="42.81" height="21.40" fill="#f4a68a"/>
<rect x="1381.93" y="109.00" width="21.56" height="21.40" fill="#ebdad1"/>
<rect x="1403.18" y="109.00" width="42.81" height="21.40" fill="#a6bae6"/>
<rect x="1445.70" y="109.00" width="21.56" height="21.40" fill="#8aa0d8"/>
<rect x="1466.95" y="109.00" width="21.56" height="21.40" fill="#b3c6eb"/>
<rect x="1488.21" y="109.00" width="21.56" height="21.40" fill="#a6bae6"/>
<rect x="1509.46" y="109.00" width="21.56" height="21.40" fill="#98addf"/>
<rect x="1530.72" y="109.00" width="21.56" height="21.40" fill="#f6ccb8"/>
<rect x="1551.98" y="109.00" width="21.56" height="21.40" fill="#d8dce8"/>
<rect x="1573.23" y="109.00" width="21.56" height="21.40" fill="#f7baa1"/>
<rect x="1594.49" y="109.00" width="21.56" height="21.40" fill="#f8c4ac"/>
<rect x="1615.74" y="109.00" width="21.56" height="21.40" fill="#f3d4c4"/>
<rect x="1637.00" y="109.00" width="21.56" height="21.40" fill="#f7baa1"/>
<rect x="1658.26" y="109.00" width="21.56" height="21.40" fill="#f3d4c4"/>
<rect x="42.80" y="130.10" width="21.56" height="20.30" fill="#e8745c"/>
<rect x="64.06" y="130.10" width="21.56" height="20.30" fill="#f7baa1"/>
<rect x="85.31" y="130.10" width="21.56" height="20.30" fill="#e8745c"/>
<rect x="106.57" y="130.10" width="21.56" height="20.30" fill="#df5f4d"/>
<rect x="127.82" y="130.10" width="42.81" height="20.30" fill="#b5142a"/>
<rect x="170.34" y="130.10" width="42.81" height="20.30" fill="#c0d2f0"/>
<rect x="212.85" y="130.10" width="21.56" height="20.30" fill="#f6b096"/>
<rect x="234.10" y="130.10" width="21.56" height="20.30" fill="#738acc"/>
<rect x="255.36" y="130.10" width="21.56" height="20.30" fill="#f6ccb8"/>
<rect x="276.62" y="130.10" width="85.32" height="20.30" fill="#e3e0de"/>
<rect x="361.64" y="130.10" width="21.56" height="20.30" fill="#98addf"/>
<rect x="382.90" y="130.10" width="21.56" height="20.30" fill="#c0d2f0"/>
<rect x="404.15" y="130.10" width="21.56" height="20.30" fill="#a6bae6"/>
<rect x="425.41" y="130.10" width="21.56" height="20.30" fill="#8aa0d8"/>
<rect x="446.66" y="130.10" width="21.56" height="20.30" fill="#c0d2f0"/>
<rect x="467.92" y="130.10" width="21.56" height="20.30" fill="#b3c6eb"/>
<rect x="489.18" y="130.10" width="21.56" height="20.30" fill="#a6bae6"/>
<rect x="510.43" y="130.10" width="21.56" height="20.30" fill="#f8c4ac"/>
<rect x="531.69" y="130.10" width="21.56" height="20.30" fill="#a6bae6"/>
<rect x="552.94" y="130.10" width="21.56" height="20.30" fill="#dedee3"/>
<rect x="574.20" y="130.10" width="42.81" height="20.30" fill="#c0d2f0"/>
<rect x="616.71" y="130.10" width="21.56" height="20.30" fill="#8aa0d8"/>
<rect x="637.97" y="130.10" width="21.56" height="20.30" fill="#f8c4ac"/>
<rect x="659.22" y="130.10" width="21.56" height="20.30" fill="#f7baa1"/>
<rect x="680.48" y="130.10" width="21.56" height="20.30" fill="#8aa0d8"/>
<rect x="701.74" y="130.10" width="21.56" height="20.30" fill="#5c74c0"/>
<rect x="722.99" y="130.10" width="42.81" height="20.30" fill="#b3c6eb"/>
<rect x="765.50" y="130.10" width="21.56" height="20.30" fill="#8aa0d8"/>
<rect x="786.76" y="130.10" width="21.56" height="20.30" fill="#f6ccb8"/>
<rect x="808.02" y="130.10" width="21.56" height="20.30" fill="#98addf"/>
<rect x="829.27" y="130.10" width="21.56" height="20.30" fill="#f6b096"/>
<rect x="850.53" y="130.10" width="21.56" height="20.30" fill="#e3e0de"/>
<rect x="871.78" y="130.10" width="21.56" height="20.30" fill="#f6ccb8"/>
<rect x="893.04" y="130.10" width="21.56" height="20.30" fill="#c0d2f0"/>
<rect x="914.30" y="130.10" width="21.56" height="20.30" fill="#f6ccb8"/>
<rect x="935.55" y="130.10" width="21.56" height="20.30" fill="#ebdad1"/>
<rect x="956.81" y="130.10" width="21.56" height="20.30" fill="#b3c6eb"/>
<rect x="978.06" y="130.10" width="21.56" height="20.30" fill="#d8dce8"/>
<rect x="999.32" y="130.10" width="21.56" height="20.30" fill="#738acc"/>
<rect x="1020.58" y="130.10" width="42.81" height="20.30" fill="#98addf"/>
<rect x="1063.09" y="130.10" width="21.56" height="20.30" fill="#dedee3"/>
<rect x="1084.34" y="130.10" width="21.56" height="20.30" fill="#b3c6eb"/>
<rect x="1105.60" y="130.10" width="21.56" height="20.30" fill="#e3e0de"/>
<rect x="1126.86" y="130.10" width="21.56" height="20.30" fill="#3c4ca8"/>
<rect x="1148.11" y="130.10" width="21.56" height="20.30" fill="#f3d4c4"/>
<rect x="1169.37" y="130.10" width="21.56" height="20.30" fill="#8aa0d8"/>
<rect x="1190.62" y="130.10" width="21.56" height="20.30" fill="#c0d2f0"/>
<rect x="1211.88" y="130.10" width="21.56" height="20.30" fill="#ebdad1"/>
<rect x="1233.14" y="130.10" width="21.56" height="20.30" fill="#98addf"/>
<rect x="1254.39" y="130.10" width="21.56" height="20.30" fill="#a6bae6"/>
<rect x="1275.65" y="130.10" width="21.56" height="20.30" fill="#b3c6eb"/>
<rect x="1296.90" y="130.10" width="21.56" height="20.30" fill="#98addf"/>
<rect x="1318.16" y="130.10" width="21.56" height="20.30" fill="#738acc"/>
<rect x="1339.42" y="130.10" width="42.81" height="20.30" fill="#f3d4c4"/>
<rect x="1381.93" y="130.10" width="42.81" height="20.30" fill="#c0d2f0"/>
<rect x="1424.44" y="130.10" width="21.56" height="20.30" fill="#f7baa1"/>
<rect x="1445.70" y="130.10" width="21.56" height="20.30" fill="#ee886d"/>
<rect x="1466.95" y="130.10" width="21.56" height="20.30" fill="#e3e0de"/>
<rect x="1488.21" y="130.10" width="21.56" height="20.30" fill="#ebdad1"/>
<rect x="1509.46" y="130.10" width="21.56" height="20.30" fill="#c0d2f0"/>
<rect x="1530.72" y="130.10" width="64.07" height="20.30" fill="#e3e0de"/>
<rect x="1594.49" y="130.10" width="21.56" height="20.30" fill="#c0d2f0"/>
<rect x="1615.74" y="130.10" width="21.56" height="20.30" fill="#e3e0de"/>
<rect x="1637.00" y="130.10" width="21.56" height="20.30" fill="#ccd7ec"/>
<rect x="1658.26" y="130.10" width="21.56" height="20.30" fill="#c0d2f0"/>
<rect x="42.80" y="150.10" width="42.81" height="21.10" fill="#e3e0de"/>
<rect x="85.31" y="150.10" width="21.56" height="21.10" fill="#f3d4c4"/>
<rect x="106.57" y="150.10" width="21.56" height="21.10" fill="#4c60b4"/>
<rect x="127.82" y="150.10" width="21.56" height="21.10" fill="#c0d2f0"/>
<rect x="149.08" y="150.10" width="21.56" height="21.10" fill="#8aa0d8"/>
<rect x="170.34" y="150.10" width="21.56" height="21.10" fill="#ebdad1"/>
<rect x="191.59" y="150.10" width="21.56" height="21.10" fill="#f6b096"/>
<rect x="212.85" y="150.10" width="21.56" height="21.10" fill="#8aa0d8"/>
<rect x="234.10" y="150.10" width="21.56" height="21.10" fill="#738acc"/>
<rect x="255.36" y="150.10" width="21.56" height="21.10" fill="#ccd7ec"/>
<rect x="276.62" y="150.10" width="21.56" height="21.10" fill="#4c60b4"/>
<rect x="297.87" y="150.10" width="21.56" height="21.10" fill="#f3d4c4"/>
<rect x="319.13" y="150.10" width="42.81" height="21.10" fill="#e3e0de"/>
<rect x="361.64" y="150.10" width="21.56" height="21.10" fill="#d8dce8"/>
<rect x="382.90" y="150.10" width="21.56" height="21.10" fill="#f8c4ac"/>
<rect x="404.15" y="150.10" width="21.56" height="21.10" fill="#f6ccb8"/>
<rect x="425.41" y="150.10" width="21.56" height="21.10" fill="#f3d4c4"/>
<rect x="446.66" y="150.10" width="42.81" height="21.10" fill="#c0d2f0"/>
<rect x="489.18" y="150.10" width="21.56" height="21.10" fill="#d64a3e"/>
<rect x="510.43" y="150.10" width="21.56" height="21.10" fill="#f6ccb8"/>
<rect x="531.69" y="150.10" width="21.56" height="21.10" fill="#b3c6eb"/>
<rect x="552.94" y="150.10" width="21.56" height="21.10" fill="#e8745c"/>
<rect x="574.20" y="150.10" width="21.56" height="21.10" fill="#f6ccb8"/>
<rect x="595.46" y="150.10" width="21.56" height="21.10" fill="#f8c4ac"/>
<rect x="616.71" y="150.10" width="21.56" height="21.10" fill="#f6ccb8"/>
<rect x="637.97" y="150.10" width="42.81" height="21.10" fill="#dedee3"/>
<rect x="680.48" y="150.10" width="21.56" height="21.10" fill="#c0d2f0"/>
<rect x="701.74" y="150.10" width="21.56" height="21.10" fill="#8aa0d8"/>
<rect x="722.99" y="150.10" width="21.56" height="21.10" fill="#e3e0de"/>
<rect x="744.25" y="150.10" width="21.56" height="21.10" fill="#98addf"/>
<rect x="765.50" y="150.10" width="21.56" height="21.10" fill="#ebdad1"/>
<rect x="786.76" y="150.10" width="21.56" height="21.10" fill="#8aa0d8"/>
<rect x="808.02" y="150.10" width="21.56" height="21.10" fill="#5c74c0"/>
<rect x="829.27" y="150.10" width="21.56" height="21.10" fill="#3c4ca8"/>
<rect x="850.53" y="150.10" width="21.56" height="21.10" fill="#98addf"/>
<rect x="871.78" y="150.10" width="21.56" height="21.10" fill="#d8dce8"/>
<rect x="893.04" y="150.10" width="21.56" height="21.10" fill="#a6bae6"/>
<rect x="914.30" y="150.10" width="21.56" height="21.10" fill="#dedee3"/>
<rect x="935.55" y="150.10" width="21.56" height="21.10" fill="#ccd7ec"/>
<rect x="956.81" y="150.10" width="21.56" height="21.10" fill="#f39c7e"/>
<rect x="978.06" y="150.10" width="21.56" height="21.10" fill="#ee886d"/>
<rect x="999.32" y="150.10" width="42.81" height="21.10" fill="#b5142a"/>
<rect x="1041.83" y="150.10" width="21.56" height="21.10" fill="#dedee3"/>
<rect x="1063.09" y="150.10" width="42.81" height="21.10" fill="#738acc"/>
<rect x="1105.60" y="150.10" width="42.81" height="21.10" fill="#c0d2f0"/>
<rect x="1148.11" y="150.10" width="21.56" height="21.10" fill="#98addf"/>
<rect x="1169.37" y="150.10" width="21.56" height="21.10" fill="#f3d4c4"/>
<rect x="1190.62" y="150.10" width="21.56" height="21.10" fill="#a6bae6"/>
<rect x="1211.88" y="150.10" width="42.81" height="21.10" fill="#c0d2f0"/>
<rect x="1254.39" y="150.10" width="21.56" height="21.10" fill="#e3e0de"/>
<rect x="1275.65" y="150.10" width="21.56" height="21.10" fill="#ccd7ec"/>
<rect x="1296.90" y="150.10" width="21.56" height="21.10" fill="#5c74c0"/>
<rect x="1318.16" y="150.10" width="21.56" height="21.10" fill="#b3c6eb"/>
<rect x="1339.42" y="150.10" width="21.56" height="21.10" fill="#dedee3"/>
<rect x="1360.67" y="150.10" width="21.56" height="21.10" fill="#f6ccb8"/>
<rect x="1381.93" y="150.10" width="21.56" height="21.10" fill="#b3c6eb"/>
<rect x="1403.18" y="150.10" width="21.56" height="21.10" fill="#738acc"/>
<rect x="1424.44" y="150.10" width="21.56" height="21.10" fill="#d8dce8"/>
<rect x="1445.70" y="150.10" width="21.56" height="21.10" fill="#ccd7ec"/>
<rect x="1466.95" y="150.10" width="21.56" height="21.10" fill="#c0d2f0"/>
<rect x="1488.21" y="150.10" width="21.56" height="21.10" fill="#b3c6eb"/>
<rect x="1509.46" y="150.10" width="21.56" height="21.10" fill="#ebdad1"/>
<rect x="1530.72" y="150.10" width="42.81" height="21.10" fill="#e3e0de"/>
<rect x="1573.23" y="150.10" width="21.56" height="21.10" fill="#ccd7ec"/>
<rect x="1594.49" y="150.10" width="21.56" height="21.10" fill="#c0d2f0"/>
<rect x="1615.74" y="150.10" width="21.56" height="21.10" fill="#d8dce8"/>
<rect x="1637.00" y="150.10" width="21.56" height="21.10" fill="#b3c6eb"/>
<rect x="1658.26" y="150.10" width="21.56" height="21.10" fill="#ccd7ec"/>
<rect x="42.80" y="170.90" width="21.56" height="21.00" fill="#ee886d"/>
<rect x="64.06" y="170.90" width="21.56" height="21.00" fill="#f7baa1"/>
<rect x="85.31" y="170.90" width="21.56" height="21.00" fill="#c0d2f0"/>
<rect x="106.57" y="170.90" width="21.56" height="21.00" fill="#d8dce8"/>
<rect x="127.82" y="170.90" width="21.56" height="21.00" fill="#e3e0de"/>
<rect x="149.08" y="170.90" width="21.56" height="21.00" fill="#f3d4c4"/>
<rect x="170.34" y="170.90" width="42.81" height="21.00" fill="#b5142a"/>
<rect x="212.85" y="170.90" width="21.56" height="21.00" fill="#c42a30"/>
<rect x="234.10" y="170.90" width="21.56" height="21.00" fill="#f8c4ac"/>
<rect x="255.36" y="170.90" width="21.56" height="21.00" fill="#ccd7ec"/>
<rect x="276.62" y="170.90" width="21.56" height="21.00" fill="#d8dce8"/>
<rect x="297.87" y="170.90" width="21.56" height="21.00" fill="#c0d2f0"/>
<rect x="319.13" y="170.90" width="21.56" height="21.00" fill="#e3e0de"/>
<rect x="340.38" y="170.90" width="21.56" height="21.00" fill="#f6b096"/>
<rect x="361.64" y="170.90" width="42.81" height="21.00" fill="#f8c4ac"/>
<rect x="404.15" y="170.90" width="21.56" height="21.00" fill="#f6ccb8"/>
<rect x="425.41" y="170.90" width="42.81" height="21.00" fill="#e3e0de"/>
<rect x="467.92" y="170.90" width="21.56" height="21.00" fill="#f6ccb8"/>
<rect x="489.18" y="170.90" width="42.81" height="21.00" fill="#c0d2f0"/>
<rect x="531.69" y="170.90" width="21.56" height="21.00" fill="#dedee3"/>
<rect x="552.94" y="170.90" width="21.56" height="21.00" fill="#e8745c"/>
<rect x="574.20" y="170.90" width="21.56" height="21.00" fill="#f8c4ac"/>
<rect x="595.46" y="170.90" width="21.56" height="21.00" fill="#ebdad1"/>
<rect x="616.71" y="170.90" width="21.56" height="21.00" fill="#e3e0de"/>
<rect x="637.97" y="170.90" width="21.56" height="21.00" fill="#f8c4ac"/>
<rect x="659.22" y="170.90" width="21.56" height="21.00" fill="#e3e0de"/>
<rect x="680.48" y="170.90" width="21.56" height="21.00" fill="#738acc"/>
<rect x="701.74" y="170.90" width="21.56" height="21.00" fill="#4c60b4"/>
<rect x="722.99" y="170.90" width="21.56" height="21.00" fill="#98addf"/>
<rect x="744.25" y="170.90" width="42.81" height="21.00" fill="#8aa0d8"/>
<rect x="786.76" y="170.90" width="21.56" height="21.00" fill="#a6bae6"/>
<rect x="808.02" y="170.90" width="42.81" height="21.00" fill="#4c60b4"/>
<rect x="850.53" y="170.90" width="21.56" height="21.00" fill="#5c74c0"/>
<rect x="871.78" y="170.90" width="21.56" height="21.00" fill="#f6ccb8"/>
<rect x="893.04" y="170.90" width="21.56" height="21.00" fill="#ebdad1"/>
<rect x="914.30" y="170.90" width="21.56" height="21.00" fill="#98addf"/>
<rect x="935.55" y="170.90" width="21.56" height="21.00" fill="#b3c6eb"/>
<rect x="956.81" y="170.90" width="21.56" height="21.00" fill="#f8c4ac"/>
<rect x="978.06" y="170.90" width="21.56" height="21.00" fill="#e3e0de"/>
<rect x="999.32" y="170.90" width="21.56" height="21.00" fill="#738acc"/>
<rect x="1020.58" y="170.90" width="21.56" height="21.00" fill="#8aa0d8"/>
<rect x="1041.83" y="170.90" width="21.56" height="21.00" fill="#f3d4c4"/>
<rect x="1063.09" y="170.90" width="21.56" height="21.00" fill="#ebdad1"/>
<rect x="1084.34" y="170.90" width="21.56" height="21.00" fill="#f7baa1"/>
<rect x="1105.60" y="170.90" width="21.56" height="21.00" fill="#ccd7ec"/>
<rect x="1126.86" y="170.90" width="21.56" height="21.00" fill="#5c74c0"/>
<rect x="1148.11" y="170.90" width="21.56" height="21.00" fill="#c0d2f0"/>
<rect x="1169.37" y="170.90" width="21.56" height="21.00" fill="#98addf"/>
<rect x="1190.62" y="170.90" width="21.56" height="21.00" fill="#a6bae6"/>
<rect x="1211.88" y="170.90" width="21.56" height="21.00" fill="#f8c4ac"/>
<rect x="1233.14" y="170.90" width="21.56" height="21.00" fill="#f6ccb8"/>
<rect x="1254.39" y="170.90" width="21.56" height="21.00" fill="#f3d4c4"/>
<rect x="1275.65" y="170.90" width="21.56" height="21.00" fill="#f8c4ac"/>
<rect x="1296.90" y="170.90" width="21.56" height="21.00" fill="#98addf"/>
<rect x="1318.16" y="170.90" width="21.56" height="21.00" fill="#f3d4c4"/>
<rect x="1339.42" y="170.90" width="21.56" height="21.00" fill="#98addf"/>
<rect x="1360.67" y="170.90" width="21.56" height="21.00" fill="#c0d2f0"/>
<rect x="1381.93" y="170.90" width="21.56" height="21.00" fill="#b3c6eb"/>
<rect x="1403.18" y="170.90" width="21.56" height="21.00" fill="#4c60b4"/>
<rect x="1424.44" y="170.90" width="21.56" height="21.00" fill="#e3e0de"/>
<rect x="1445.70" y="170.90" width="21.56" height="21.00" fill="#c0d2f0"/>
<rect x="1466.95" y="170.90" width="21.56" height="21.00" fill="#f6ccb8"/>
<rect x="1488.21" y="170.90" width="21.56" height="21.00" fill="#f7baa1"/>
<rect x="1509.46" y="170.90" width="21.56" height="21.00" fill="#f3d4c4"/>
<rect x="1530.72" y="170.90" width="21.56" height="21.00" fill="#98addf"/>
<rect x="1551.98" y="170.90" width="21.56" height="21.00" fill="#dedee3"/>
<rect x="1573.23" y="170.90" width="21.56" height="21.00" fill="#c0d2f0"/>
<rect x="1594.49" y="170.90" width="21.56" height="21.00" fill="#b3c6eb"/>
<rect x="1615.74" y="170.90" width="21.56" height="21.00" fill="#a6bae6"/>
<rect x="1637.00" y="170.90" width="21.56" height="21.00" fill="#5c74c0"/>
<rect x="1658.26" y="170.90" width="21.56" height="21.00" fill="#a6bae6"/>
<rect x="42.80" y="191.60" width="21.56" height="21.10" fill="#738acc"/>
<rect x="64.06" y="191.60" width="64.07" height="21.10" fill="#a6bae6"/>
<rect x="127.82" y="191.60" width="21.56" height="21.10" fill="#c0d2f0"/>
<rect x="149.08" y="191.60" width="21.56" height="21.10" fill="#f3d4c4"/>
<rect x="170.34" y="191.60" width="21.56" height="21.10" fill="#a6bae6"/>
<rect x="191.59" y="191.60" width="21.56" height="21.10" fill="#f7baa1"/>
<rect x="212.85" y="191.60" width="21.56" height="21.10" fill="#ebdad1"/>
<rect x="234.10" y="191.60" width="42.81" height="21.10" fill="#3c4ca8"/>
<rect x="276.62" y="191.60" width="21.56" height="21.10" fill="#f39c7e"/>
<rect x="297.87" y="191.60" width="21.56" height="21.10" fill="#d8dce8"/>
<rect x="319.13" y="191.60" width="21.56" height="21.10" fill="#a6bae6"/>
<rect x="340.38" y="191.60" width="21.56" height="21.10" fill="#98addf"/>
<rect x="361.64" y="191.60" width="21.56" height="21.10" fill="#d8dce8"/>
<rect x="382.90" y="191.60" width="21.56" height="21.10" fill="#5c74c0"/>
<rect x="404.15" y="191.60" width="21.56" height="21.10" fill="#b3c6eb"/>
<rect x="425.41" y="191.60" width="21.56" height="21.10" fill="#98addf"/>
<rect x="446.66" y="191.60" width="21.56" height="21.10" fill="#e3e0de"/>
<rect x="467.92" y="191.60" width="21.56" height="21.10" fill="#f8c4ac"/>
<rect x="489.18" y="191.60" width="21.56" height="21.10" fill="#f6b096"/>
<rect x="510.43" y="191.60" width="42.81" height="21.10" fill="#f3d4c4"/>
<rect x="552.94" y="191.60" width="21.56" height="21.10" fill="#f6b096"/>
<rect x="574.20" y="191.60" width="21.56" height="21.10" fill="#f6ccb8"/>
<rect x="595.46" y="191.60" width="21.56" height="21.10" fill="#f7baa1"/>
<rect x="616.71" y="191.60" width="21.56" height="21.10" fill="#c0d2f0"/>
<rect x="637.97" y="191.60" width="21.56" height="21.10" fill="#a6bae6"/>
<rect x="659.22" y="191.60" width="21.56" height="21.10" fill="#98addf"/>
<rect x="680.48" y="191.60" width="21.56" height="21.10" fill="#f3d4c4"/>
<rect x="701.74" y="191.60" width="21.56" height="21.10" fill="#f39c7e"/>
<rect x="722.99" y="191.60" width="21.56" height="21.10" fill="#f3d4c4"/>
<rect x="744.25" y="191.60" width="21.56" height="21.10" fill="#ebdad1"/>
<rect x="765.50" y="191.60" width="21.56" height="21.10" fill="#d8dce8"/>
<rect x="786.76" y="191.60" width="21.56" height="21.10" fill="#f8c4ac"/>
<rect x="808.02" y="191.60" width="21.56" height="21.10" fill="#98addf"/>
<rect x="829.27" y="191.60" width="21.56" height="21.10" fill="#ebdad1"/>
<rect x="850.53" y="191.60" width="21.56" height="21.10" fill="#f39c7e"/>
<rect x="871.78" y="191.60" width="21.56" height="21.10" fill="#c0d2f0"/>
<rect x="893.04" y="191.60" width="42.81" height="21.10" fill="#f6ccb8"/>
<rect x="935.55" y="191.60" width="21.56" height="21.10" fill="#f3d4c4"/>
<rect x="956.81" y="191.60" width="21.56" height="21.10" fill="#c0d2f0"/>
<rect x="978.06" y="191.60" width="21.56" height="21.10" fill="#f6ccb8"/>
<rect x="999.32" y="191.60" width="21.56" height="21.10" fill="#c0d2f0"/>
<rect x="1020.58" y="191.60" width="21.56" height="21.10" fill="#b3c6eb"/>
<rect x="1041.83" y="191.60" width="21.56" height="21.10" fill="#98addf"/>
<rect x="1063.09" y="191.60" width="21.56" height="21.10" fill="#4c60b4"/>
<rect x="1084.34" y="191.60" width="21.56" height="21.10" fill="#b3c6eb"/>
<rect x="1105.60" y="191.60" width="21.56" height="21.10" fill="#d8dce8"/>
<rect x="1126.86" y="191.60" width="21.56" height="21.10" fill="#c0d2f0"/>
<rect x="1148.11" y="191.60" width="21.56" height="21.10" fill="#f3d4c4"/>
<rect x="1169.37" y="191.60" width="21.56" height="21.10" fill="#98addf"/>
<rect x="1190.62" y="191.60" width="21.56" height="21.10" fill="#b3c6eb"/>
<rect x="1211.88" y="191.60" width="21.56" height="21.10" fill="#f39c7e"/>
<rect x="1233.14" y="191.60" width="21.56" height="21.10" fill="#ee886d"/>
<rect x="1254.39" y="191.60" width="21.56" height="21.10" fill="#f6ccb8"/>
<rect x="1275.65" y="191.60" width="21.56" height="21.10" fill="#f4a68a"/>
<rect x="1296.90" y="191.60" width="21.56" height="21.10" fill="#f6ccb8"/>
<rect x="1318.16" y="191.60" width="21.56" height="21.10" fill="#ebdad1"/>
<rect x="1339.42" y="191.60" width="21.56" height="21.10" fill="#3c4ca8"/>
<rect x="1360.67" y="191.60" width="21.56" height="21.10" fill="#98addf"/>
<rect x="1381.93" y="191.60" width="21.56" height="21.10" fill="#d8dce8"/>
<rect x="1403.18" y="191.60" width="21.56" height="21.10" fill="#e3e0de"/>
<rect x="1424.44" y="191.60" width="42.81" height="21.10" fill="#ebdad1"/>
<rect x="1466.95" y="191.60" width="21.56" height="21.10" fill="#f3d4c4"/>
<rect x="1488.21" y="191.60" width="21.56" height="21.10" fill="#f4a68a"/>
<rect x="1509.46" y="191.60" width="21.56" height="21.10" fill="#ebdad1"/>
<rect x="1530.72" y="191.60" width="21.56" height="21.10" fill="#f3d4c4"/>
<rect x="1551.98" y="191.60" width="21.56" height="21.10" fill="#f8c4ac"/>
<rect x="1573.23" y="191.60" width="21.56" height="21.10" fill="#f7baa1"/>
<rect x="1594.49" y="191.60" width="42.81" height="21.10" fill="#e8745c"/>
<rect x="1637.00" y="191.60" width="21.56" height="21.10" fill="#b5142a"/>
<rect x="1658.26" y="191.60" width="21.56" height="21.10" fill="#ee886d"/>
<rect x="42.80" y="212.40" width="64.07" height="21.10" fill="#3c4ca8"/>
<rect x="106.57" y="212.40" width="21.56" height="21.10" fill="#4c60b4"/>
<rect x="127.82" y="212.40" width="21.56" height="21.10" fill="#3c4ca8"/>
<rect x="149.08" y="212.40" width="21.56" height="21.10" fill="#8aa0d8"/>
<rect x="170.34" y="212.40" width="21.56" height="21.10" fill="#738acc"/>
<rect x="191.59" y="212.40" width="42.81" height="21.10" fill="#8aa0d8"/>
<rect x="234.10" y="212.40" width="21.56" height="21.10" fill="#4c60b4"/>
<rect x="255.36" y="212.40" width="21.56" height="21.10" fill="#b3c6eb"/>
<rect x="276.62" y="212.40" width="21.56" height="21.10" fill="#ebdad1"/>
<rect x="297.87" y="212.40" width="21.56" height="21.10" fill="#e3e0de"/>
<rect x="319.13" y="212.40" width="21.56" height="21.10" fill="#8aa0d8"/>
<rect x="340.38" y="212.40" width="21.56" height="21.10" fill="#b3c6eb"/>
<rect x="361.64" y="212.40" width="21.56" height="21.10" fill="#d8dce8"/>
<rect x="382.90" y="212.40" width="21.56" height="21.10" fill="#f8c4ac"/>
<rect x="404.15" y="212.40" width="21.56" height="21.10" fill="#5c74c0"/>
<rect x="425.41" y="212.40" width="21.56" height="21.10" fill="#a6bae6"/>
<rect x="446.66" y="212.40" width="21.56" height="21.10" fill="#ebdad1"/>
<rect x="467.92" y="212.40" width="21.56" height="21.10" fill="#738acc"/>
<rect x="489.18" y="212.40" width="21.56" height="21.10" fill="#98addf"/>
<rect x="510.43" y="212.40" width="21.56" height="21.10" fill="#e3e0de"/>
<rect x="531.69" y="212.40" width="21.56" height="21.10" fill="#a6bae6"/>
<rect x="552.94" y="212.40" width="21.56" height="21.10" fill="#b3c6eb"/>
<rect x="574.20" y="212.40" width="21.56" height="21.10" fill="#d8dce8"/>
<rect x="595.46" y="212.40" width="21.56" height="21.10" fill="#8aa0d8"/>
<rect x="616.71" y="212.40" width="21.56" height="21.10" fill="#e3e0de"/>
<rect x="637.97" y="212.40" width="21.56" height="21.10" fill="#f3d4c4"/>
<rect x="659.22" y="212.40" width="21.56" height="21.10" fill="#f39c7e"/>
<rect x="680.48" y="212.40" width="42.81" height="21.10" fill="#5c74c0"/>
<rect x="722.99" y="212.40" width="21.56" height="21.10" fill="#4c60b4"/>
<rect x="744.25" y="212.40" width="21.56" height="21.10" fill="#8aa0d8"/>
<rect x="765.50" y="212.40" width="21.56" height="21.10" fill="#c0d2f0"/>
<rect x="786.76" y="212.40" width="21.56" height="21.10" fill="#738acc"/>
<rect x="808.02" y="212.40" width="21.56" height="21.10" fill="#4c60b4"/>
<rect x="829.27" y="212.40" width="21.56" height="21.10" fill="#738acc"/>
<rect x="850.53" y="212.40" width="21.56" height="21.10" fill="#4c60b4"/>
<rect x="871.78" y="212.40" width="21.56" height="21.10" fill="#e3e0de"/>
<rect x="893.04" y="212.40" width="21.56" height="21.10" fill="#738acc"/>
<rect x="914.30" y="212.40" width="21.56" height="21.10" fill="#4c60b4"/>
<rect x="935.55" y="212.40" width="21.56" height="21.10" fill="#98addf"/>
<rect x="956.81" y="212.40" width="21.56" height="21.10" fill="#dedee3"/>
<rect x="978.06" y="212.40" width="21.56" height="21.10" fill="#5c74c0"/>
<rect x="999.32" y="212.40" width="42.81" height="21.10" fill="#3c4ca8"/>
<rect x="1041.83" y="212.40" width="42.81" height="21.10" fill="#738acc"/>
<rect x="1084.34" y="212.40" width="21.56" height="21.10" fill="#5c74c0"/>
<rect x="1105.60" y="212.40" width="21.56" height="21.10" fill="#f3d4c4"/>
<rect x="1126.86" y="212.40" width="42.81" height="21.10" fill="#738acc"/>
<rect x="1169.37" y="212.40" width="21.56" height="21.10" fill="#f6ccb8"/>
<rect x="1190.62" y="212.40" width="21.56" height="21.10" fill="#5c74c0"/>
<rect x="1211.88" y="212.40" width="21.56" height="21.10" fill="#ebdad1"/>
<rect x="1233.14" y="212.40" width="21.56" height="21.10" fill="#e3e0de"/>
<rect x="1254.39" y="212.40" width="21.56" height="21.10" fill="#98addf"/>
<rect x="1275.65" y="212.40" width="21.56" height="21.10" fill="#e3e0de"/>
<rect x="1296.90" y="212.40" width="21.56" height="21.10" fill="#5c74c0"/>
<rect x="1318.16" y="212.40" width="21.56" height="21.10" fill="#8aa0d8"/>
<rect x="1339.42" y="212.40" width="21.56" height="21.10" fill="#f3d4c4"/>
<rect x="1360.67" y="212.40" width="21.56" height="21.10" fill="#f7baa1"/>
<rect x="1381.93" y="212.40" width="21.56" height="21.10" fill="#c0d2f0"/>
<rect x="1403.18" y="212.40" width="21.56" height="21.10" fill="#98addf"/>
<rect x="1424.44" y="212.40" width="21.56" height="21.10" fill="#ee886d"/>
<rect x="1445.70" y="212.40" width="42.81" height="21.10" fill="#b5142a"/>
<rect x="1488.21" y="212.40" width="21.56" height="21.10" fill="#df5f4d"/>
<rect x="1509.46" y="212.40" width="21.56" height="21.10" fill="#b5142a"/>
<rect x="1530.72" y="212.40" width="21.56" height="21.10" fill="#ebdad1"/>
<rect x="1551.98" y="212.40" width="21.56" height="21.10" fill="#f8c4ac"/>
<rect x="1573.23" y="212.40" width="21.56" height="21.10" fill="#d8dce8"/>
<rect x="1594.49" y="212.40" width="21.56" height="21.10" fill="#f8c4ac"/>
<rect x="1615.74" y="212.40" width="42.81" height="21.10" fill="#c0d2f0"/>
<rect x="1658.26" y="212.40" width="21.56" height="21.10" fill="#f7baa1"/>
<rect x="42.80" y="233.20" width="21.56" height="20.40" fill="#738acc"/>
<rect x="64.06" y="233.20" width="21.56" height="20.40" fill="#e3e0de"/>
<rect x="85.31" y="233.20" width="21.56" height="20.40" fill="#f6b096"/>
<rect x="106.57" y="233.20" width="42.81" height="20.40" fill="#e3e0de"/>
<rect x="149.08" y="233.20" width="21.56" height="20.40" fill="#f7baa1"/>
<rect x="170.34" y="233.20" width="21.56" height="20.40" fill="#f6b096"/>
<rect x="191.59" y="233.20" width="21.56" height="20.40" fill="#ebdad1"/>
<rect x="212.85" y="233.20" width="21.56" height="20.40" fill="#d8dce8"/>
<rect x="234.10" y="233.20" width="21.56" height="20.40" fill="#b3c6eb"/>
<rect x="255.36" y="233.20" width="21.56" height="20.40" fill="#a6bae6"/>
<rect x="276.62" y="233.20" width="21.56" height="20.40" fill="#d8dce8"/>
<rect x="297.87" y="233.20" width="21.56" height="20.40" fill="#ebdad1"/>
<rect x="319.13" y="233.20" width="21.56" height="20.40" fill="#e3e0de"/>
<rect x="340.38" y="233.20" width="21.56" height="20.40" fill="#f8c4ac"/>
<rect x="361.64" y="233.20" width="21.56" height="20.40" fill="#d8dce8"/>
<rect x="382.90" y="233.20" width="21.56" height="20.40" fill="#e3e0de"/>
<rect x="404.15" y="233.20" width="21.56" height="20.40" fill="#a6bae6"/>
<rect x="425.41" y="233.20" width="21.56" height="20.40" fill="#98addf"/>
<rect x="446.66" y="233.20" width="21.56" height="20.40" fill="#f39c7e"/>
<rect x="467.92" y="233.20" width="21.56" height="20.40" fill="#f6b096"/>
<rect x="489.18" y="233.20" width="21.56" height="20.40" fill="#e8745c"/>
<rect x="510.43" y="233.20" width="21.56" height="20.40" fill="#f6ccb8"/>
<rect x="531.69" y="233.20" width="21.56" height="20.40" fill="#f3d4c4"/>
<rect x="552.94" y="233.20" width="21.56" height="20.40" fill="#c42a30"/>
<rect x="574.20" y="233.20" width="21.56" height="20.40" fill="#f39c7e"/>
<rect x="595.46" y="233.20" width="21.56" height="20.40" fill="#f6ccb8"/>
<rect x="616.71" y="233.20" width="21.56" height="20.40" fill="#f3d4c4"/>
<rect x="637.97" y="233.20" width="21.56" height="20.40" fill="#f6b096"/>
<rect x="659.22" y="233.20" width="21.56" height="20.40" fill="#f4a68a"/>
<rect x="680.48" y="233.20" width="21.56" height="20.40" fill="#b3c6eb"/>
<rect x="701.74" y="233.20" width="21.56" height="20.40" fill="#4c60b4"/>
<rect x="722.99" y="233.20" width="21.56" height="20.40" fill="#e3e0de"/>
<rect x="744.25" y="233.20" width="21.56" height="20.40" fill="#c0d2f0"/>
<rect x="765.50" y="233.20" width="21.56" height="20.40" fill="#dedee3"/>
<rect x="786.76" y="233.20" width="21.56" height="20.40" fill="#c0d2f0"/>
<rect x="808.02" y="233.20" width="21.56" height="20.40" fill="#98addf"/>
<rect x="829.27" y="233.20" width="21.56" height="20.40" fill="#f8c4ac"/>
<rect x="850.53" y="233.20" width="21.56" height="20.40" fill="#c0d2f0"/>
<rect x="871.78" y="233.20" width="21.56" height="20.40" fill="#ebdad1"/>
<rect x="893.04" y="233.20" width="21.56" height="20.40" fill="#f6ccb8"/>
<rect x="914.30" y="233.20" width="21.56" height="20.40" fill="#f6b096"/>
<rect x="935.55" y="233.20" width="21.56" height="20.40" fill="#ebdad1"/>
<rect x="956.81" y="233.20" width="21.56" height="20.40" fill="#c0d2f0"/>
<rect x="978.06" y="233.20" width="21.56" height="20.40" fill="#e3e0de"/>
<rect x="999.32" y="233.20" width="21.56" height="20.40" fill="#f7baa1"/>
<rect x="1020.58" y="233.20" width="21.56" height="20.40" fill="#f4a68a"/>
<rect x="1041.83" y="233.20" width="21.56" height="20.40" fill="#f3d4c4"/>
<rect x="1063.09" y="233.20" width="21.56" height="20.40" fill="#f6ccb8"/>
<rect x="1084.34" y="233.20" width="21.56" height="20.40" fill="#f3d4c4"/>
<rect x="1105.60" y="233.20" width="21.56" height="20.40" fill="#b3c6eb"/>
<rect x="1126.86" y="233.20" width="21.56" height="20.40" fill="#8aa0d8"/>
<rect x="1148.11" y="233.20" width="21.56" height="20.40" fill="#a6bae6"/>
<rect x="1169.37" y="233.20" width="21.56" height="20.40" fill="#f39c7e"/>
<rect x="1190.62" y="233.20" width="64.07" height="20.40" fill="#b5142a"/>
<rect x="1254.39" y="233.20" width="21.56" height="20.40" fill="#bc1f2d"/>
<rect x="1275.65" y="233.20" width="21.56" height="20.40" fill="#b5142a"/>
<rect x="1296.90" y="233.20" width="21.56" height="20.40" fill="#c42a30"/>
<rect x="1318.16" y="233.20" width="64.07" height="20.40" fill="#b5142a"/>
<rect x="1381.93" y="233.20" width="21.56" height="20.40" fill="#ebdad1"/>
<rect x="1403.18" y="233.20" width="21.56" height="20.40" fill="#ee886d"/>
<rect x="1424.44" y="233.20" width="21.56" height="20.40" fill="#b5142a"/>
<rect x="1445.70" y="233.20" width="21.56" height="20.40" fill="#df5f4d"/>
<rect x="1466.95" y="233.20" width="21.56" height="20.40" fill="#f6ccb8"/>
<rect x="1488.21" y="233.20" width="21.56" height="20.40" fill="#f3d4c4"/>
<rect x="1509.46" y="233.20" width="21.56" height="20.40" fill="#f4a68a"/>
<rect x="1530.72" y="233.20" width="21.56" height="20.40" fill="#e8745c"/>
<rect x="1551.98" y="233.20" width="21.56" height="20.40" fill="#f3d4c4"/>
<rect x="1573.23" y="233.20" width="21.56" height="20.40" fill="#ee886d"/>
<rect x="1594.49" y="233.20" width="21.56" height="20.40" fill="#b5142a"/>
<rect x="1615.74" y="233.20" width="21.56" height="20.40" fill="#e8745c"/>
<rect x="1637.00" y="233.20" width="21.56" height="20.40" fill="#f4a68a"/>
<rect x="1658.26" y="233.20" width="21.56" height="20.40" fill="#f3d4c4"/>
<rect x="42.80" y="253.30" width="42.81" height="21.30" fill="#3c4ca8"/>
<rect x="85.31" y="253.30" width="21.56" height="21.30" fill="#4c60b4"/>
<rect x="106.57" y="253.30" width="42.81" height="21.30" fill="#3c4ca8"/>
<rect x="149.08" y="253.30" width="21.56" height="21.30" fill="#e3e0de"/>
<rect x="170.34" y="253.30" width="21.56" height="21.30" fill="#5c74c0"/>
<rect x="191.59" y="253.30" width="21.56" height="21.30" fill="#a6bae6"/>
<rect x="212.85" y="253.30" width="21.56" height="21.30" fill="#f8c4ac"/>
<rect x="234.10" y="253.30" width="21.56" height="21.30" fill="#3c4ca8"/>
<rect x="255.36" y="253.30" width="21.56" height="21.30" fill="#738acc"/>
<rect x="276.62" y="253.30" width="21.56" height="21.30" fill="#8aa0d8"/>
<rect x="297.87" y="253.30" width="21.56" height="21.30" fill="#4c60b4"/>
<rect x="319.13" y="253.30" width="85.32" height="21.30" fill="#8aa0d8"/>
<rect x="404.15" y="253.30" width="21.56" height="21.30" fill="#4c60b4"/>
<rect x="425.41" y="253.30" width="21.56" height="21.30" fill="#3c4ca8"/>
<rect x="446.66" y="253.30" width="21.56" height="21.30" fill="#d8dce8"/>
<rect x="467.92" y="253.30" width="21.56" height="21.30" fill="#a6bae6"/>
<rect x="489.18" y="253.30" width="21.56" height="21.30" fill="#e8745c"/>
<rect x="510.43" y="253.30" width="21.56" height="21.30" fill="#c0d2f0"/>
<rect x="531.69" y="253.30" width="21.56" height="21.30" fill="#f3d4c4"/>
<rect x="552.94" y="253.30" width="21.56" height="21.30" fill="#c0d2f0"/>
<rect x="574.20" y="253.30" width="21.56" height="21.30" fill="#5c74c0"/>
<rect x="595.46" y="253.30" width="21.56" height="21.30" fill="#f6ccb8"/>
<rect x="616.71" y="253.30" width="21.56" height="21.30" fill="#b3c6eb"/>
<rect x="637.97" y="253.30" width="21.56" height="21.30" fill="#5c74c0"/>
<rect x="659.22" y="253.30" width="21.56" height="21.30" fill="#738acc"/>
<rect x="680.48" y="253.30" width="42.81" height="21.30" fill="#4c60b4"/>
<rect x="722.99" y="253.30" width="42.81" height="21.30" fill="#a6bae6"/>
<rect x="765.50" y="253.30" width="21.56" height="21.30" fill="#98addf"/>
<rect x="786.76" y="253.30" width="21.56" height="21.30" fill="#738acc"/>
<rect x="808.02" y="253.30" width="21.56" height="21.30" fill="#5c74c0"/>
<rect x="829.27" y="253.30" width="21.56" height="21.30" fill="#4c60b4"/>
<rect x="850.53" y="253.30" width="21.56" height="21.30" fill="#c0d2f0"/>
<rect x="871.78" y="253.30" width="21.56" height="21.30" fill="#738acc"/>
<rect x="893.04" y="253.30" width="21.56" height="21.30" fill="#8aa0d8"/>
<rect x="914.30" y="253.30" width="21.56" height="21.30" fill="#b3c6eb"/>
<rect x="935.55" y="253.30" width="21.56" height="21.30" fill="#98addf"/>
<rect x="956.81" y="253.30" width="21.56" height="21.30" fill="#b3c6eb"/>
<rect x="978.06" y="253.30" width="21.56" height="21.30" fill="#738acc"/>
<rect x="999.32" y="253.30" width="42.81" height="21.30" fill="#4c60b4"/>
<rect x="1041.83" y="253.30" width="21.56" height="21.30" fill="#c0d2f0"/>
<rect x="1063.09" y="253.30" width="21.56" height="21.30" fill="#8aa0d8"/>
<rect x="1084.34" y="253.30" width="42.81" height="21.30" fill="#5c74c0"/>
<rect x="1126.86" y="253.30" width="42.81" height="21.30" fill="#738acc"/>
<rect x="1169.37" y="253.30" width="21.56" height="21.30" fill="#dedee3"/>
<rect x="1190.62" y="253.30" width="21.56" height="21.30" fill="#5c74c0"/>
<rect x="1211.88" y="253.30" width="21.56" height="21.30" fill="#ccd7ec"/>
<rect x="1233.14" y="253.30" width="21.56" height="21.30" fill="#738acc"/>
<rect x="1254.39" y="253.30" width="21.56" height="21.30" fill="#a6bae6"/>
<rect x="1275.65" y="253.30" width="21.56" height="21.30" fill="#ebdad1"/>
<rect x="1296.90" y="253.30" width="21.56" height="21.30" fill="#d8dce8"/>
<rect x="1318.16" y="253.30" width="21.56" height="21.30" fill="#738acc"/>
<rect x="1339.42" y="253.30" width="21.56" height="21.30" fill="#f4a68a"/>
<rect x="1360.67" y="253.30" width="21.56" height="21.30" fill="#f6ccb8"/>
<rect x="1381.93" y="253.30" width="21.56" height="21.30" fill="#f8c4ac"/>
<rect x="1403.18" y="253.30" width="21.56" height="21.30" fill="#ebdad1"/>
<rect x="1424.44" y="253.30" width="21.56" height="21.30" fill="#e3e0de"/>
<rect x="1445.70" y="253.30" width="42.81" height="21.30" fill="#5c74c0"/>
<rect x="1488.21" y="253.30" width="21.56" height="21.30" fill="#ccd7ec"/>
<rect x="1509.46" y="253.30" width="21.56" height="21.30" fill="#98addf"/>
<rect x="1530.72" y="253.30" width="21.56" height="21.30" fill="#c0d2f0"/>
<rect x="1551.98" y="253.30" width="21.56" height="21.30" fill="#98addf"/>
<rect x="1573.23" y="253.30" width="21.56" height="21.30" fill="#c0d2f0"/>
<rect x="1594.49" y="253.30" width="21.56" height="21.30" fill="#b3c6eb"/>
<rect x="1615.74" y="253.30" width="21.56" height="21.30" fill="#d8dce8"/>
<rect x="1637.00" y="253.30" width="21.56" height="21.30" fill="#c0d2f0"/>
<rect x="1658.26" y="253.30" width="21.56" height="21.30" fill="#98addf"/>
<rect x="42.80" y="274.30" width="21.56" height="20.90" fill="#a6bae6"/>
<rect x="64.06" y="274.30" width="21.56" height="20.90" fill="#e3e0de"/>
<rect x="85.31" y="274.30" width="21.56" height="20.90" fill="#738acc"/>
<rect x="106.57" y="274.30" width="21.56" height="20.90" fill="#a6bae6"/>
<rect x="127.82" y="274.30" width="21.56" height="20.90" fill="#738acc"/>
<rect x="149.08" y="274.30" width="42.81" height="20.90" fill="#4c60b4"/>
<rect x="191.59" y="274.30" width="42.81" height="20.90" fill="#5c74c0"/>
<rect x="234.10" y="274.30" width="21.56" height="20.90" fill="#8aa0d8"/>
<rect x="255.36" y="274.30" width="21.56" height="20.90" fill="#f3d4c4"/>
<rect x="276.62" y="274.30" width="42.81" height="20.90" fill="#3c4ca8"/>
<rect x="319.13" y="274.30" width="21.56" height="20.90" fill="#5c74c0"/>
<rect x="340.38" y="274.30" width="21.56" height="20.90" fill="#738acc"/>
<rect x="361.64" y="274.30" width="21.56" height="20.90" fill="#4c60b4"/>
<rect x="382.90" y="274.30" width="42.81" height="20.90" fill="#5c74c0"/>
<rect x="425.41" y="274.30" width="21.56" height="20.90" fill="#4c60b4"/>
<rect x="446.66" y="274.30" width="42.81" height="20.90" fill="#5c74c0"/>
<rect x="489.18" y="274.30" width="21.56" height="20.90" fill="#4c60b4"/>
<rect x="510.43" y="274.30" width="42.81" height="20.90" fill="#738acc"/>
<rect x="552.94" y="274.30" width="21.56" height="20.90" fill="#8aa0d8"/>
<rect x="574.20" y="274.30" width="21.56" height="20.90" fill="#3c4ca8"/>
<rect x="595.46" y="274.30" width="21.56" height="20.90" fill="#4c60b4"/>
<rect x="616.71" y="274.30" width="21.56" height="20.90" fill="#738acc"/>
<rect x="637.97" y="274.30" width="21.56" height="20.90" fill="#8aa0d8"/>
<rect x="659.22" y="274.30" width="21.56" height="20.90" fill="#738acc"/>
<rect x="680.48" y="274.30" width="21.56" height="20.90" fill="#5c74c0"/>
<rect x="701.74" y="274.30" width="21.56" height="20.90" fill="#4c60b4"/>
<rect x="722.99" y="274.30" width="21.56" height="20.90" fill="#3c4ca8"/>
<rect x="744.25" y="274.30" width="21.56" height="20.90" fill="#4c60b4"/>
<rect x="765.50" y="274.30" width="64.07" height="20.90" fill="#3c4ca8"/>
<rect x="829.27" y="274.30" width="21.56" height="20.90" fill="#b3c6eb"/>
<rect x="850.53" y="274.30" width="21.56" height="20.90" fill="#4c60b4"/>
<rect x="871.78" y="274.30" width="21.56" height="20.90" fill="#8aa0d8"/>
<rect x="893.04" y="274.30" width="21.56" height="20.90" fill="#4c60b4"/>
<rect x="914.30" y="274.30" width="42.81" height="20.90" fill="#3c4ca8"/>
<rect x="956.81" y="274.30" width="21.56" height="20.90" fill="#5c74c0"/>
<rect x="978.06" y="274.30" width="21.56" height="20.90" fill="#738acc"/>
<rect x="999.32" y="274.30" width="42.81" height="20.90" fill="#4c60b4"/>
<rect x="1041.83" y="274.30" width="42.81" height="20.90" fill="#3c4ca8"/>
<rect x="1084.34" y="274.30" width="42.81" height="20.90" fill="#5c74c0"/>
<rect x="1126.86" y="274.30" width="21.56" height="20.90" fill="#3c4ca8"/>
<rect x="1148.11" y="274.30" width="64.07" height="20.90" fill="#738acc"/>
<rect x="1211.88" y="274.30" width="21.56" height="20.90" fill="#5c74c0"/>
<rect x="1233.14" y="274.30" width="21.56" height="20.90" fill="#4c60b4"/>
<rect x="1254.39" y="274.30" width="21.56" height="20.90" fill="#8aa0d8"/>
<rect x="1275.65" y="274.30" width="21.56" height="20.90" fill="#738acc"/>
<rect x="1296.90" y="274.30" width="21.56" height="20.90" fill="#ebdad1"/>
<rect x="1318.16" y="274.30" width="21.56" height="20.90" fill="#3c4ca8"/>
<rect x="1339.42" y="274.30" width="64.07" height="20.90" fill="#5c74c0"/>
<rect x="1403.18" y="274.30" width="42.81" height="20.90" fill="#738acc"/>
<rect x="1445.70" y="274.30" width="21.56" height="20.90" fill="#d8dce8"/>
<rect x="1466.95" y="274.30" width="21.56" height="20.90" fill="#c0d2f0"/>
<rect x="1488.21" y="274.30" width="21.56" height="20.90" fill="#98addf"/>
<rect x="1509.46" y="274.30" width="21.56" height="20.90" fill="#dedee3"/>
<rect x="1530.72" y="274.30" width="42.81" height="20.90" fill="#8aa0d8"/>
<rect x="1573.23" y="274.30" width="21.56" height="20.90" fill="#b3c6eb"/>
<rect x="1594.49" y="274.30" width="21.56" height="20.90" fill="#738acc"/>
<rect x="1615.74" y="274.30" width="42.81" height="20.90" fill="#98addf"/>
<rect x="1658.26" y="274.30" width="21.56" height="20.90" fill="#ebdad1"/>
<rect x="42.80" y="294.90" width="21.56" height="20.70" fill="#8aa0d8"/>
<rect x="64.06" y="294.90" width="21.56" height="20.70" fill="#b3c6eb"/>
<rect x="85.31" y="294.90" width="21.56" height="20.70" fill="#d8dce8"/>
<rect x="106.57" y="294.90" width="21.56" height="20.70" fill="#ebdad1"/>
<rect x="127.82" y="294.90" width="21.56" height="20.70" fill="#3c4ca8"/>
<rect x="149.08" y="294.90" width="21.56" height="20.70" fill="#738acc"/>
<rect x="170.34" y="294.90" width="21.56" height="20.70" fill="#5c74c0"/>
<rect x="191.59" y="294.90" width="21.56" height="20.70" fill="#d8dce8"/>
<rect x="212.85" y="294.90" width="21.56" height="20.70" fill="#f6b096"/>
<rect x="234.10" y="294.90" width="21.56" height="20.70" fill="#d8dce8"/>
<rect x="255.36" y="294.90" width="21.56" height="20.70" fill="#738acc"/>
<rect x="276.62" y="294.90" width="21.56" height="20.70" fill="#5c74c0"/>
<rect x="297.87" y="294.90" width="42.81" height="20.70" fill="#8aa0d8"/>
<rect x="340.38" y="294.90" width="21.56" height="20.70" fill="#a6bae6"/>
<rect x="361.64" y="294.90" width="21.56" height="20.70" fill="#98addf"/>
<rect x="382.90" y="294.90" width="21.56" height="20.70" fill="#5c74c0"/>
<rect x="404.15" y="294.90" width="21.56" height="20.70" fill="#3c4ca8"/>
<rect x="425.41" y="294.90" width="21.56" height="20.70" fill="#a6bae6"/>
<rect x="446.66" y="294.90" width="21.56" height="20.70" fill="#5c74c0"/>
<rect x="467.92" y="294.90" width="21.56" height="20.70" fill="#8aa0d8"/>
<rect x="489.18" y="294.90" width="21.56" height="20.70" fill="#5c74c0"/>
<rect x="510.43" y="294.90" width="21.56" height="20.70" fill="#8aa0d8"/>
<rect x="531.69" y="294.90" width="21.56" height="20.70" fill="#d8dce8"/>
<rect x="552.94" y="294.90" width="21.56" height="20.70" fill="#c0d2f0"/>
<rect x="574.20" y="294.90" width="21.56" height="20.70" fill="#8aa0d8"/>
<rect x="595.46" y="294.90" width="21.56" height="20.70" fill="#a6bae6"/>
<rect x="616.71" y="294.90" width="21.56" height="20.70" fill="#8aa0d8"/>
<rect x="637.97" y="294.90" width="21.56" height="20.70" fill="#98addf"/>
<rect x="659.22" y="294.90" width="21.56" height="20.70" fill="#b3c6eb"/>
<rect x="680.48" y="294.90" width="21.56" height="20.70" fill="#5c74c0"/>
<rect x="701.74" y="294.90" width="21.56" height="20.70" fill="#3c4ca8"/>
<rect x="722.99" y="294.90" width="21.56" height="20.70" fill="#4c60b4"/>
<rect x="744.25" y="294.90" width="21.56" height="20.70" fill="#738acc"/>
<rect x="765.50" y="294.90" width="42.81" height="20.70" fill="#5c74c0"/>
<rect x="808.02" y="294.90" width="21.56" height="20.70" fill="#4c60b4"/>
<rect x="829.27" y="294.90" width="21.56" height="20.70" fill="#8aa0d8"/>
<rect x="850.53" y="294.90" width="21.56" height="20.70" fill="#3c4ca8"/>
<rect x="871.78" y="294.90" width="21.56" height="20.70" fill="#b3c6eb"/>
<rect x="893.04" y="294.90" width="21.56" height="20.70" fill="#5c74c0"/>
<rect x="914.30" y="294.90" width="21.56" height="20.70" fill="#b3c6eb"/>
<rect x="935.55" y="294.90" width="21.56" height="20.70" fill="#738acc"/>
<rect x="956.81" y="294.90" width="21.56" height="20.70" fill="#b3c6eb"/>
<rect x="978.06" y="294.90" width="21.56" height="20.70" fill="#4c60b4"/>
<rect x="999.32" y="294.90" width="42.81" height="20.70" fill="#3c4ca8"/>
<rect x="1041.83" y="294.90" width="21.56" height="20.70" fill="#738acc"/>
<rect x="1063.09" y="294.90" width="21.56" height="20.70" fill="#8aa0d8"/>
<rect x="1084.34" y="294.90" width="21.56" height="20.70" fill="#e3e0de"/>
<rect x="1105.60" y="294.90" width="21.56" height="20.70" fill="#98addf"/>
<rect x="1126.86" y="294.90" width="21.56" height="20.70" fill="#5c74c0"/>
<rect x="1148.11" y="294.90" width="21.56" height="20.70" fill="#98addf"/>
<rect x="1169.37" y="294.90" width="21.56" height="20.70" fill="#c42a30"/>
<rect x="1190.62" y="294.90" width="21.56" height="20.70" fill="#5c74c0"/>
<rect x="1211.88" y="294.90" width="21.56" height="20.70" fill="#8aa0d8"/>
<rect x="1233.14" y="294.90" width="21.56" height="20.70" fill="#c0d2f0"/>
<rect x="1254.39" y="294.90" width="21.56" height="20.70" fill="#5c74c0"/>
<rect x="1275.65" y="294.90" width="21.56" height="20.70" fill="#b3c6eb"/>
<rect x="1296.90" y="294.90" width="21.56" height="20.70" fill="#ccd7ec"/>
<rect x="1318.16" y="294.90" width="21.56" height="20.70" fill="#4c60b4"/>
<rect x="1339.42" y="294.90" width="21.56" height="20.70" fill="#98addf"/>
<rect x="1360.67" y="294.90" width="21.56" height="20.70" fill="#b3c6eb"/>
<rect x="1381.93" y="294.90" width="21.56" height="20.70" fill="#738acc"/>
<rect x="1403.18" y="294.90" width="21.56" height="20.70" fill="#c0d2f0"/>
<rect x="1424.44" y="294.90" width="21.56" height="20.70" fill="#ebdad1"/>
<rect x="1445.70" y="294.90" width="21.56" height="20.70" fill="#c0d2f0"/>
<rect x="1466.95" y="294.90" width="21.56" height="20.70" fill="#98addf"/>
<rect x="1488.21" y="294.90" width="21.56" height="20.70" fill="#738acc"/>
<rect x="1509.46" y="294.90" width="21.56" height="20.70" fill="#ccd7ec"/>
<rect x="1530.72" y="294.90" width="21.56" height="20.70" fill="#f3d4c4"/>
<rect x="1551.98" y="294.90" width="21.56" height="20.70" fill="#b3c6eb"/>
<rect x="1573.23" y="294.90" width="21.56" height="20.70" fill="#d8dce8"/>
<rect x="1594.49" y="294.90" width="21.56" height="20.70" fill="#ccd7ec"/>
<rect x="1615.74" y="294.90" width="21.56" height="20.70" fill="#d8dce8"/>
<rect x="1637.00" y="294.90" width="21.56" height="20.70" fill="#f3d4c4"/>
<rect x="1658.26" y="294.90" width="21.56" height="20.70" fill="#b3c6eb"/>
<rect x="42.80" y="315.30" width="21.56" height="21.20" fill="#a6bae6"/>
<rect x="64.06" y="315.30" width="21.56" height="21.20" fill="#5c74c0"/>
<rect x="85.31" y="315.30" width="21.56" height="21.20" fill="#98addf"/>
<rect x="106.57" y="315.30" width="21.56" height="21.20" fill="#f8c4ac"/>
<rect x="127.82" y="315.30" width="21.56" height="21.20" fill="#98addf"/>
<rect x="149.08" y="315.30" width="42.81" height="21.20" fill="#3c4ca8"/>
<rect x="191.59" y="315.30" width="21.56" height="21.20" fill="#ebdad1"/>
<rect x="212.85" y="315.30" width="21.56" height="21.20" fill="#3c4ca8"/>
<rect x="234.10" y="315.30" width="21.56" height="21.20" fill="#b3c6eb"/>
<rect x="255.36" y="315.30" width="21.56" height="21.20" fill="#3c4ca8"/>
<rect x="276.62" y="315.30" width="21.56" height="21.20" fill="#a6bae6"/>
<rect x="297.87" y="315.30" width="42.81" height="21.20" fill="#3c4ca8"/>
<rect x="340.38" y="315.30" width="21.56" height="21.20" fill="#4c60b4"/>
<rect x="361.64" y="315.30" width="170.35" height="21.20" fill="#3c4ca8"/>
<rect x="531.69" y="315.30" width="21.56" height="21.20" fill="#738acc"/>
<rect x="552.94" y="315.30" width="42.81" height="21.20" fill="#3c4ca8"/>
<rect x="595.46" y="315.30" width="21.56" height="21.20" fill="#4c60b4"/>
<rect x="616.71" y="315.30" width="106.58" height="21.20" fill="#3c4ca8"/>
<rect x="722.99" y="315.30" width="21.56" height="21.20" fill="#4c60b4"/>
<rect x="744.25" y="315.30" width="21.56" height="21.20" fill="#738acc"/>
<rect x="765.50" y="315.30" width="21.56" height="21.20" fill="#4c60b4"/>
<rect x="786.76" y="315.30" width="21.56" height="21.20" fill="#3c4ca8"/>
<rect x="808.02" y="315.30" width="21.56" height="21.20" fill="#4c60b4"/>
<rect x="829.27" y="315.30" width="21.56" height="21.20" fill="#5c74c0"/>
<rect x="850.53" y="315.30" width="21.56" height="21.20" fill="#ccd7ec"/>
<rect x="871.78" y="315.30" width="21.56" height="21.20" fill="#c0d2f0"/>
<rect x="893.04" y="315.30" width="21.56" height="21.20" fill="#f8c4ac"/>
<rect x="914.30" y="315.30" width="21.56" height="21.20" fill="#5c74c0"/>
<rect x="935.55" y="315.30" width="21.56" height="21.20" fill="#738acc"/>
<rect x="956.81" y="315.30" width="42.81" height="21.20" fill="#3c4ca8"/>
<rect x="999.32" y="315.30" width="21.56" height="21.20" fill="#5c74c0"/>
<rect x="1020.58" y="315.30" width="21.56" height="21.20" fill="#4c60b4"/>
<rect x="1041.83" y="315.30" width="64.07" height="21.20" fill="#3c4ca8"/>
<rect x="1105.60" y="315.30" width="21.56" height="21.20" fill="#5c74c0"/>
<rect x="1126.86" y="315.30" width="21.56" height="21.20" fill="#3c4ca8"/>
<rect x="1148.11" y="315.30" width="21.56" height="21.20" fill="#e3e0de"/>
<rect x="1169.37" y="315.30" width="64.07" height="21.20" fill="#3c4ca8"/>
<rect x="1233.14" y="315.30" width="21.56" height="21.20" fill="#5c74c0"/>
<rect x="1254.39" y="315.30" width="85.32" height="21.20" fill="#3c4ca8"/>
<rect x="1339.42" y="315.30" width="21.56" height="21.20" fill="#dedee3"/>
<rect x="1360.67" y="315.30" width="21.56" height="21.20" fill="#ccd7ec"/>
<rect x="1381.93" y="315.30" width="21.56" height="21.20" fill="#5c74c0"/>
<rect x="1403.18" y="315.30" width="21.56" height="21.20" fill="#bc1f2d"/>
<rect x="1424.44" y="315.30" width="21.56" height="21.20" fill="#98addf"/>
<rect x="1445.70" y="315.30" width="42.81" height="21.20" fill="#5c74c0"/>
<rect x="1488.21" y="315.30" width="42.81" height="21.20" fill="#3c4ca8"/>
<rect x="1530.72" y="315.30" width="42.81" height="21.20" fill="#b3c6eb"/>
<rect x="1573.23" y="315.30" width="21.56" height="21.20" fill="#c0d2f0"/>
<rect x="1594.49" y="315.30" width="21.56" height="21.20" fill="#98addf"/>
<rect x="1615.74" y="315.30" width="21.56" height="21.20" fill="#8aa0d8"/>
<rect x="1637.00" y="315.30" width="21.56" height="21.20" fill="#ccd7ec"/>
<rect x="1658.26" y="315.30" width="21.56" height="21.20" fill="#a6bae6"/>
<rect x="42.80" y="336.20" width="21.56" height="20.70" fill="#d8dce8"/>
<rect x="64.06" y="336.20" width="21.56" height="20.70" fill="#e3e0de"/>
<rect x="85.31" y="336.20" width="21.56" height="20.70" fill="#8aa0d8"/>
<rect x="106.57" y="336.20" width="21.56" height="20.70" fill="#ccd7ec"/>
<rect x="127.82" y="336.20" width="21.56" height="20.70" fill="#98addf"/>
<rect x="149.08" y="336.20" width="21.56" height="20.70" fill="#a6bae6"/>
<rect x="170.34" y="336.20" width="21.56" height="20.70" fill="#5c74c0"/>
<rect x="191.59" y="336.20" width="21.56" height="20.70" fill="#3c4ca8"/>
<rect x="212.85" y="336.20" width="21.56" height="20.70" fill="#98addf"/>
<rect x="234.10" y="336.20" width="64.07" height="20.70" fill="#b5142a"/>
<rect x="297.87" y="336.20" width="21.56" height="20.70" fill="#f6b096"/>
<rect x="319.13" y="336.20" width="21.56" height="20.70" fill="#5c74c0"/>
<rect x="340.38" y="336.20" width="21.56" height="20.70" fill="#3c4ca8"/>
<rect x="361.64" y="336.20" width="21.56" height="20.70" fill="#a6bae6"/>
<rect x="382.90" y="336.20" width="21.56" height="20.70" fill="#4c60b4"/>
<rect x="404.15" y="336.20" width="21.56" height="20.70" fill="#c0d2f0"/>
<rect x="425.41" y="336.20" width="21.56" height="20.70" fill="#4c60b4"/>
<rect x="446.66" y="336.20" width="21.56" height="20.70" fill="#5c74c0"/>
<rect x="467.92" y="336.20" width="21.56" height="20.70" fill="#4c60b4"/>
<rect x="489.18" y="336.20" width="21.56" height="20.70" fill="#a6bae6"/>
<rect x="510.43" y="336.20" width="21.56" height="20.70" fill="#98addf"/>
<rect x="531.69" y="336.20" width="21.56" height="20.70" fill="#3c4ca8"/>
<rect x="552.94" y="336.20" width="21.56" height="20.70" fill="#738acc"/>
<rect x="574.20" y="336.20" width="21.56" height="20.70" fill="#4c60b4"/>
<rect x="595.46" y="336.20" width="21.56" height="20.70" fill="#3c4ca8"/>
<rect x="616.71" y="336.20" width="21.56" height="20.70" fill="#98addf"/>
<rect x="637.97" y="336.20" width="21.56" height="20.70" fill="#738acc"/>
<rect x="659.22" y="336.20" width="21.56" height="20.70" fill="#3c4ca8"/>
<rect x="680.48" y="336.20" width="21.56" height="20.70" fill="#98addf"/>
<rect x="701.74" y="336.20" width="21.56" height="20.70" fill="#c0d2f0"/>
<rect x="722.99" y="336.20" width="21.56" height="20.70" fill="#5c74c0"/>
<rect x="744.25" y="336.20" width="21.56" height="20.70" fill="#3c4ca8"/>
<rect x="765.50" y="336.20" width="21.56" height="20.70" fill="#5c74c0"/>
<rect x="786.76" y="336.20" width="21.56" height="20.70" fill="#738acc"/>
<rect x="808.02" y="336.20" width="21.56" height="20.70" fill="#4c60b4"/>
<rect x="829.27" y="336.20" width="21.56" height="20.70" fill="#b3c6eb"/>
<rect x="850.53" y="336.20" width="21.56" height="20.70" fill="#f3d4c4"/>
<rect x="871.78" y="336.20" width="85.32" height="20.70" fill="#3c4ca8"/>
<rect x="956.81" y="336.20" width="21.56" height="20.70" fill="#ebdad1"/>
<rect x="978.06" y="336.20" width="21.56" height="20.70" fill="#98addf"/>
<rect x="999.32" y="336.20" width="21.56" height="20.70" fill="#738acc"/>
<rect x="1020.58" y="336.20" width="21.56" height="20.70" fill="#4c60b4"/>
<rect x="1041.83" y="336.20" width="42.81" height="20.70" fill="#5c74c0"/>
<rect x="1084.34" y="336.20" width="21.56" height="20.70" fill="#4c60b4"/>
<rect x="1105.60" y="336.20" width="21.56" height="20.70" fill="#3c4ca8"/>
<rect x="1126.86" y="336.20" width="21.56" height="20.70" fill="#738acc"/>
<rect x="1148.11" y="336.20" width="21.56" height="20.70" fill="#3c4ca8"/>
<rect x="1169.37" y="336.20" width="42.81" height="20.70" fill="#8aa0d8"/>
<rect x="1211.88" y="336.20" width="42.81" height="20.70" fill="#4c60b4"/>
<rect x="1254.39" y="336.20" width="42.81" height="20.70" fill="#5c74c0"/>
<rect x="1296.90" y="336.20" width="21.56" height="20.70" fill="#738acc"/>
<rect x="1318.16" y="336.20" width="21.56" height="20.70" fill="#f3d4c4"/>
<rect x="1339.42" y="336.20" width="21.56" height="20.70" fill="#4c60b4"/>
<rect x="1360.67" y="336.20" width="127.84" height="20.70" fill="#3c4ca8"/>
<rect x="1488.21" y="336.20" width="42.81" height="20.70" fill="#5c74c0"/>
<rect x="1530.72" y="336.20" width="149.09" height="20.70" fill="#3c4ca8"/>
</g>
<g font-family="'Liberation Sans', sans-serif" font-size="16.3px" stroke-width="0.22">
<text x="4.4" y="23.60" fill="#b4182c" stroke="#b4182c" textLength="20.9" lengthAdjust="spacingAndGlyphs">PD</text>
<text x="4.4" y="44.80" fill="#b4182c" stroke="#b4182c" textLength="20.9" lengthAdjust="spacingAndGlyphs">PD</text>
<text x="4.4" y="65.70" fill="#b4182c" stroke="#b4182c" textLength="20.9" lengthAdjust="spacingAndGlyphs">PD</text>
<text x="4.4" y="86.00" fill="#2a5aa8" stroke="#2a5aa8" textLength="20.9" lengthAdjust="spacingAndGlyphs">CR</text>
<text x="4.4" y="106.90" fill="#2a5aa8" stroke="#2a5aa8" textLength="20.9" lengthAdjust="spacingAndGlyphs">SD</text>
<text x="4.4" y="127.40" fill="#2a5aa8" stroke="#2a5aa8" textLength="20.9" lengthAdjust="spacingAndGlyphs">PR</text>
<text x="4.4" y="148.20" fill="#2a5aa8" stroke="#2a5aa8" textLength="20.9" lengthAdjust="spacingAndGlyphs">PR</text>
<text x="4.4" y="169.00" fill="#2a5aa8" stroke="#2a5aa8" textLength="20.9" lengthAdjust="spacingAndGlyphs">CR</text>
<text x="4.4" y="189.20" fill="#2a5aa8" stroke="#2a5aa8" textLength="20.9" lengthAdjust="spacingAndGlyphs">PR</text>
<text x="4.4" y="209.60" fill="#2a5aa8" stroke="#2a5aa8" textLength="20.9" lengthAdjust="spacingAndGlyphs">PR</text>
<text x="4.4" y="230.60" fill="#2a5aa8" stroke="#2a5aa8" textLength="20.9" lengthAdjust="spacingAndGlyphs">SD</text>
<text x="4.4" y="251.10" fill="#2a5aa8" stroke="#2a5aa8" textLength="20.9" lengthAdjust="spacingAndGlyphs">PR</text>
<text x="4.4" y="271.80" fill="#2a5aa8" stroke="#2a5aa8" textLength="20.9" lengthAdjust="spacingAndGlyphs">PR</text>
<text x="4.4" y="292.50" fill="#2a5aa8" stroke="#2a5aa8" textLength="20.9" lengthAdjust="spacingAndGlyphs">SD</text>
<text x="4.4" y="313.00" fill="#2a5aa8" stroke="#2a5aa8" textLength="20.9" lengthAdjust="spacingAndGlyphs">SD</text>
<text x="4.4" y="333.70" fill="#2a5aa8" stroke="#2a5aa8" textLength="20.9" lengthAdjust="spacingAndGlyphs">SD</text>
<text x="4.4" y="354.10" fill="#2a5aa8" stroke="#2a5aa8" textLength="20.9" lengthAdjust="spacingAndGlyphs">PR</text>
</g>
<path d="M75.6 366.2V419.0H96.8V366.2M54.3 366.2V432.5H86.2V419.0M70.2 432.5V450.1H118.1V366.2M139.3 366.2V415.9H160.6V366.2M94.2 450.1V461.9H150.0V415.9M181.8 366.2V429.4H203.1V366.2M192.5 429.4V451.8H224.3V366.2M122.1 461.9V492.2H208.4V451.8M245.6 366.2V423.2H266.9V366.2M288.1 366.2V420.5H309.4V366.2M256.2 423.2V460.5H298.7V420.5M165.2 492.2V526.0H277.5V460.5M330.6 366.2V392.1H351.9V366.2M373.1 366.2V403.1H394.4V366.2M341.3 392.1V414.3H383.8V403.1M415.7 366.2V406.8H436.9V366.2M362.5 414.3V423.2H426.3V406.8M458.2 366.2V401.4H479.4V366.2M468.8 401.4V421.7H500.7V366.2M521.9 366.2V423.8H543.2V366.2M484.7 421.7V445.4H532.6V423.8M585.7 366.2V402.5H607.0V366.2M564.4 366.2V410.3H596.3V402.5M580.4 410.3V415.5H628.2V366.2M649.5 366.2V397.9H670.7V366.2M604.3 415.5V434.2H660.1V397.9M508.6 445.4V454.3H632.2V434.2M394.4 423.2V470.8H570.4V454.3M692.0 366.2V391.1H713.2V366.2M734.5 366.2V386.3H755.7V366.2M745.1 386.3V394.2H777.0V366.2M761.1 394.2V402.1H798.3V366.2M779.7 402.1V406.0H819.5V366.2M702.6 391.1V414.9H799.6V406.0M751.1 414.9V423.2H840.8V366.2M925.8 366.2V394.6H947.1V366.2M904.5 366.2V410.3H936.4V394.6M883.3 366.2V414.9H920.5V410.3M862.0 366.2V429.4H901.9V414.9M795.9 423.2V462.5H882.0V429.4M482.4 470.8V492.2H838.9V462.5M968.3 366.2V420.5H989.6V366.2M1010.8 366.2V373.5H1032.1V366.2M978.9 420.5V436.2H1021.4V373.5M660.7 492.2V516.3H1000.2V436.2M1053.3 366.2V386.5H1074.6V366.2M1064.0 386.5V395.2H1095.8V366.2M1117.1 366.2V403.5H1138.4V366.2M1127.7 403.5V411.8H1159.6V366.2M1079.9 395.2V425.3H1143.7V411.8M1111.8 425.3V458.4H1180.9V366.2M830.4 516.3V558.4H1146.3V458.4M221.4 526.0V588.3H988.4V558.4M1223.4 366.2V392.7H1244.6V366.2M1234.0 392.7V409.3H1265.9V366.2M1249.9 409.3V413.4H1287.1V366.2M1202.1 366.2V432.5H1268.5V413.4M1308.4 366.2V416.4H1329.7V366.2M1235.3 432.5V459.4H1319.0V416.4M1350.9 366.2V405.6H1372.2V366.2M1361.5 405.6V452.2H1393.4V366.2M1377.5 452.2V475.4H1414.7V366.2M1277.2 459.4V505.3H1396.1V475.4M1435.9 366.2V408.7H1457.2V366.2M1478.5 366.2V395.8H1499.7V366.2M1446.6 408.7V426.3H1489.1V395.8M1467.8 426.3V430.0H1521.0V366.2M1542.2 366.2V400.8H1563.5V366.2M1584.7 366.2V397.9H1606.0V366.2M1627.2 366.2V394.6H1648.5V366.2M1595.4 397.9V406.0H1637.9V394.6M1616.6 406.0V415.5H1669.8V366.2M1552.8 400.8V427.6H1643.2V415.5M1494.4 430.0V490.5H1598.0V427.6M1336.6 505.3V524.7H1546.2V490.5M604.9 588.3V620.5H1441.4V524.7M1023.1 620.5V645.5" fill="none" stroke="#2a2a2a" stroke-width="1.75" stroke-linejoin="round"/>
<path d="M1682.5 17.1H1801.9V37.6H1682.5M1801.9 27.4H1853.7V58.2H1682.5M1853.7 42.8H1912.4" fill="none" stroke="#c43a4c" stroke-width="1.9" stroke-linejoin="round"/>
<path d="M1682.5 79.2H1763.7V99.5H1682.5M1763.7 89.3H1773.8V120.3H1682.5M1773.8 104.8H1791.6V140.9H1682.5M1682.5 161.6H1780.2V181.9H1682.5M1682.5 203.0H1791.6V223.7H1682.5M1780.2 171.8H1805.9V213.3H1791.6M1791.6 122.9H1813.8V192.6H1805.9M1813.8 157.7H1832.2V244.2H1682.5M1832.2 201.0H1912.4M1682.5 285.5H1749.5V305.9H1682.5M1749.5 295.7H1768.8V326.7H1682.5M1682.5 264.6H1782.0V311.2H1768.8M1782.0 287.9H1821.5V347.1H1682.5M1821.5 317.5H1989.6" fill="none" stroke="#3a70be" stroke-width="1.9" stroke-linejoin="round"/>
<path d="M1912.4 42.8V201.0M1912.4 121.9H1989.6M1989.6 121.9V317.5M1989.6 219.7H2020" fill="none" stroke="#1c1c1c" stroke-width="2"/>
<g font-family="'Liberation Sans', sans-serif" font-size="16.3px" fill="#000" stroke="#000" stroke-width="0.3" style="white-space:pre">
<text transform="translate(56.50 1008.60) rotate(-90)" textLength="181.1" lengthAdjust="spacingAndGlyphs">Cleaved Caspase 3 D175</text>
<text transform="translate(77.76 1008.60) rotate(-90)" textLength="181.1" lengthAdjust="spacingAndGlyphs">Cleaved Caspase 7 D198</text>
<text transform="translate(99.01 1008.60) rotate(-90)" textLength="96.5" lengthAdjust="spacingAndGlyphs">PD-L1 E1L3N</text>
<text transform="translate(120.27 1008.60) rotate(-90)" textLength="181.1" lengthAdjust="spacingAndGlyphs">Cleaved Caspase 9 D315</text>
<text transform="translate(141.52 1008.60) rotate(-90)" textLength="181.1" lengthAdjust="spacingAndGlyphs">Cleaved Caspase 6 D162</text>
<text transform="translate(162.78 1008.60) rotate(-90)" textLength="161.6" lengthAdjust="spacingAndGlyphs">p38 MAPK T180/Y182</text>
<text transform="translate(184.04 1008.60) rotate(-90)" textLength="68.9" lengthAdjust="spacingAndGlyphs">ATR S428</text>
<text transform="translate(205.29 1008.60) rotate(-90)" textLength="40.3" lengthAdjust="spacingAndGlyphs">GRB2</text>
<text transform="translate(226.55 1008.60) rotate(-90)" textLength="141.5" lengthAdjust="spacingAndGlyphs">ERK 1/2 T202/Y204</text>
<text transform="translate(247.80 1008.60) rotate(-90)" textLength="77.4" lengthAdjust="spacingAndGlyphs">4EBP1 T70</text>
<text transform="translate(269.06 1008.60) rotate(-90)" textLength="41.0" lengthAdjust="spacingAndGlyphs">CDK2</text>
<text transform="translate(290.32 1008.60) rotate(-90)" textLength="60.1" lengthAdjust="spacingAndGlyphs">p53 S15</text>
<text transform="translate(311.57 1008.60) rotate(-90)" textLength="68.2" lengthAdjust="spacingAndGlyphs">Cyclin A2</text>
<text transform="translate(332.83 1008.60) rotate(-90)" textLength="176.7" lengthAdjust="spacingAndGlyphs">Cleaved Caspase9 D330</text>
<text transform="translate(354.08 1008.60) rotate(-90)" textLength="182.6" lengthAdjust="spacingAndGlyphs">Estrogen Rec alpha S118</text>
<text transform="translate(375.34 1008.60) rotate(-90)" textLength="82.1" lengthAdjust="spacingAndGlyphs">ATM S1981</text>
<text transform="translate(396.60 1008.60) rotate(-90)" textLength="57.9" lengthAdjust="spacingAndGlyphs">Rb total</text>
<text transform="translate(417.85 1008.60) rotate(-90)" textLength="78.2" lengthAdjust="spacingAndGlyphs">Chk1 S345</text>
<text transform="translate(439.11 1008.60) rotate(-90)" textLength="90.6" lengthAdjust="spacingAndGlyphs">HER2 Y1248</text>
<text transform="translate(460.36 1008.60) rotate(-90)" textLength="137.1" lengthAdjust="spacingAndGlyphs">FKHR-FOX01 S256</text>
<text transform="translate(481.62 1008.60) rotate(-90)" textLength="114.8" lengthAdjust="spacingAndGlyphs">Histone H3 S28</text>
<text transform="translate(502.88 1008.60) rotate(-90)" textLength="61.6" lengthAdjust="spacingAndGlyphs">Rb S780</text>
<text transform="translate(524.13 1008.60) rotate(-90)" textLength="68.2" lengthAdjust="spacingAndGlyphs">p27 T187</text>
<text transform="translate(545.39 1008.60) rotate(-90)" textLength="121.4" lengthAdjust="spacingAndGlyphs">RSK3 T356/S360</text>
<text transform="translate(566.64 1008.60) rotate(-90)" textLength="146.7" lengthAdjust="spacingAndGlyphs">GSK-3a/B Y279/216</text>
<text transform="translate(587.90 1008.60) rotate(-90)" textLength="75.5" lengthAdjust="spacingAndGlyphs">Caspase 8</text>
<text transform="translate(609.16 1008.60) rotate(-90)" textLength="77.4" lengthAdjust="spacingAndGlyphs">cPLA S505</text>
<text transform="translate(630.41 1008.60) rotate(-90)" textLength="65.5" lengthAdjust="spacingAndGlyphs">Cyclin B1</text>
<text transform="translate(651.67 1008.60) rotate(-90)" textLength="177.5" lengthAdjust="spacingAndGlyphs">PI3Kp85 Y485/p55 Y199</text>
<text transform="translate(672.92 1008.60) rotate(-90)" textLength="88.0" lengthAdjust="spacingAndGlyphs">EGFR Y1173</text>
<text transform="translate(694.18 1008.60) rotate(-90)" textLength="70.4" lengthAdjust="spacingAndGlyphs">AKT T308</text>
<text transform="translate(715.44 1008.60) rotate(-90)" textLength="70.1" lengthAdjust="spacingAndGlyphs">AKT S473</text>
<text transform="translate(736.69 1008.60) rotate(-90)" textLength="95.3" lengthAdjust="spacingAndGlyphs">mTOR S2448</text>
<text transform="translate(757.95 1008.60) rotate(-90)" textLength="79.9" lengthAdjust="spacingAndGlyphs">IRS-1 S612</text>
<text transform="translate(779.20 1008.60) rotate(-90)" textLength="88.0" lengthAdjust="spacingAndGlyphs">EGFR Y1148</text>
<text transform="translate(800.46 1008.60) rotate(-90)" textLength="156.2" lengthAdjust="spacingAndGlyphs">NF-kappaB p65 S536</text>
<text transform="translate(821.72 1008.60) rotate(-90)" textLength="79.5" lengthAdjust="spacingAndGlyphs">PDK1 S241</text>
<text transform="translate(842.97 1008.60) rotate(-90)" textLength="62.3" lengthAdjust="spacingAndGlyphs">CDC25A</text>
<text transform="translate(864.23 1008.60) rotate(-90)" textLength="93.1" lengthAdjust="spacingAndGlyphs">Chk2 S33/35</text>
<text transform="translate(885.48 1008.60) rotate(-90)" textLength="78.4" lengthAdjust="spacingAndGlyphs">c-Raf S338</text>
<text transform="translate(906.74 1008.60) rotate(-90)" textLength="136.1" lengthAdjust="spacingAndGlyphs">MEK 1/2 S217/221</text>
<text transform="translate(928.00 1008.60) rotate(-90)" textLength="138.6" lengthAdjust="spacingAndGlyphs">p70S6 Kinase T389</text>
<text transform="translate(949.25 1008.60) rotate(-90)" textLength="98.2" lengthAdjust="spacingAndGlyphs">p90RSK S380</text>
<text transform="translate(970.51 1008.60) rotate(-90)" textLength="153.3" lengthAdjust="spacingAndGlyphs">FKHRL1-FOX03 S253</text>
<text transform="translate(991.76 1008.60) rotate(-90)" textLength="92.4" lengthAdjust="spacingAndGlyphs">eIF4G S1108</text>
<text transform="translate(1013.02 1008.60) rotate(-90)" textLength="233.7" lengthAdjust="spacingAndGlyphs">S6 Ribosomal Protein S235/236</text>
<text transform="translate(1034.28 1008.60) rotate(-90)" textLength="233.4" lengthAdjust="spacingAndGlyphs">S6 Ribosomal Protein S240/244</text>
<text transform="translate(1055.53 1008.60) rotate(-90)" textLength="84.3" lengthAdjust="spacingAndGlyphs">4-EBP1 S65</text>
<text transform="translate(1076.79 1008.60) rotate(-90)" textLength="67.4" lengthAdjust="spacingAndGlyphs">Cyclin D1</text>
<text transform="translate(1098.04 1008.60) rotate(-90)" textLength="101.9" lengthAdjust="spacingAndGlyphs">4EBP1 T37/46</text>
<text transform="translate(1119.30 1008.60) rotate(-90)" textLength="110.0" lengthAdjust="spacingAndGlyphs">Cyclin D1 T286</text>
<text transform="translate(1140.56 1008.60) rotate(-90)" textLength="114.4" lengthAdjust="spacingAndGlyphs">Histone H3 S10</text>
<text transform="translate(1161.81 1008.60) rotate(-90)" textLength="95.3" lengthAdjust="spacingAndGlyphs">HSP90a T5/7</text>
<text transform="translate(1183.07 1008.60) rotate(-90)" textLength="90.9" lengthAdjust="spacingAndGlyphs">FoxM1 T600</text>
<text transform="translate(1204.32 1008.60) rotate(-90)" textLength="282.1" lengthAdjust="spacingAndGlyphs">FKHR-FOX01 T24/ FKHRL1-FOX03 T32</text>
<text transform="translate(1225.58 1008.60) rotate(-90)" textLength="80.6" lengthAdjust="spacingAndGlyphs">PTEN S380</text>
<text transform="translate(1246.84 1008.60) rotate(-90)" textLength="80.9" lengthAdjust="spacingAndGlyphs">B-Raf S445</text>
<text transform="translate(1268.09 1008.60) rotate(-90)" textLength="65.2" lengthAdjust="spacingAndGlyphs">Raf S259</text>
<text transform="translate(1289.35 1008.60) rotate(-90)" textLength="57.9" lengthAdjust="spacingAndGlyphs">ERK 1/2</text>
<text transform="translate(1310.60 1008.60) rotate(-90)" textLength="81.4" lengthAdjust="spacingAndGlyphs">CDK4 T172</text>
<text transform="translate(1331.86 1008.60) rotate(-90)" textLength="70.1" lengthAdjust="spacingAndGlyphs">ASK1 S83</text>
<text transform="translate(1353.12 1008.60) rotate(-90)" textLength="77.0" lengthAdjust="spacingAndGlyphs">p16 INK4a</text>
<text transform="translate(1374.37 1008.60) rotate(-90)" textLength="109.2" lengthAdjust="spacingAndGlyphs">p21 Waf1/Cip1</text>
<text transform="translate(1395.63 1008.60) rotate(-90)" textLength="82.1" lengthAdjust="spacingAndGlyphs">Elk-1  S383</text>
<text transform="translate(1416.88 1008.60) rotate(-90)" textLength="68.2" lengthAdjust="spacingAndGlyphs">Ras GRF1</text>
<text transform="translate(1438.14 1008.60) rotate(-90)" textLength="73.3" lengthAdjust="spacingAndGlyphs">BAD S112</text>
<text transform="translate(1459.40 1008.60) rotate(-90)" textLength="67.7" lengthAdjust="spacingAndGlyphs">Shc Y317</text>
<text transform="translate(1480.65 1008.60) rotate(-90)" textLength="171.9" lengthAdjust="spacingAndGlyphs">IGF-1R Y1131/IR Y1146</text>
<text transform="translate(1501.91 1008.60) rotate(-90)" textLength="80.9" lengthAdjust="spacingAndGlyphs">SHP2 Y580</text>
<text transform="translate(1523.16 1008.60) rotate(-90)" textLength="94.6" lengthAdjust="spacingAndGlyphs">SHIP1 Y1020</text>
<text transform="translate(1544.42 1008.60) rotate(-90)" textLength="71.1" lengthAdjust="spacingAndGlyphs">cMyc S62</text>
<text transform="translate(1565.68 1008.60) rotate(-90)" textLength="88.7" lengthAdjust="spacingAndGlyphs">EGFR Y1068</text>
<text transform="translate(1586.93 1008.60) rotate(-90)" textLength="89.4" lengthAdjust="spacingAndGlyphs">HER3 Y1197</text>
<text transform="translate(1608.19 1008.60) rotate(-90)" textLength="89.4" lengthAdjust="spacingAndGlyphs">HER3 Y1289</text>
<text transform="translate(1629.44 1008.60) rotate(-90)" textLength="115.9" lengthAdjust="spacingAndGlyphs">PP2A A Subunit</text>
<text transform="translate(1650.70 1008.60) rotate(-90)" textLength="115.9" lengthAdjust="spacingAndGlyphs">PP2A B Subunit</text>
<text transform="translate(1671.96 1008.60) rotate(-90)" textLength="93.1" lengthAdjust="spacingAndGlyphs">Paxillin Y118</text>
</g>
<rect x="626.1" y="1009.9" width="108.8" height="10.9" fill="#f97d78" stroke="#0c0c0c" stroke-width="2"/>
<rect x="790.5" y="1009.9" width="29.8" height="10.9" fill="#f97d78" stroke="#0c0c0c" stroke-width="2"/>
<rect x="618.1" y="1032.5" width="215.4" height="23.5" fill="#f97d78" stroke="#0c0c0c" stroke-width="2"/>
<rect x="1544.0" y="1009.9" width="62.4" height="10.9" fill="#6b79c9" stroke="#0c0c0c" stroke-width="2"/>
<rect x="1466.8" y="1032.5" width="216.6" height="23.5" fill="#6b79c9" stroke="#0c0c0c" stroke-width="2"/>
<g font-family="'Liberation Sans', sans-serif" font-size="25.6px" fill="#fff" stroke="#fff" stroke-width="0.3">
<text x="659.3" y="1051.9" textLength="131" lengthAdjust="spacingAndGlyphs">AKT/mTOR</text>
<text x="1507.4" y="1052.2" textLength="133.5" lengthAdjust="spacingAndGlyphs">HER Family</text>
</g>
<rect x="1682.2" y="648" width="358" height="377" fill="#fff" stroke="#bdbdbd" stroke-width="2"/>
<path d="M1980.1 648V1025" stroke="#3a3a3a" stroke-width="2" fill="none"/>
<polyline points="1700.5,941.9 1721.1,923.6 1741.0,917.8 1760.7,911.1 1780.4,903.3 1800.9,901.4 1820.6,889.8 1840.2,889.8 1860.1,876.3 1880.4,872.8 1899.7,862.2 1920.0,853.2 1939.8,840.0 1960.5,813.0 1980.2,740.0 2000.0,648.0" fill="none" stroke="#3b63b7" stroke-width="1.2" stroke-linejoin="round"/>
</svg>
</body>
</html>
